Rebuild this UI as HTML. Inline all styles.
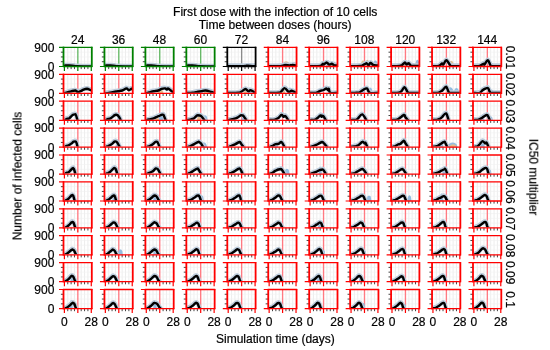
<!DOCTYPE html>
<html><head><meta charset="utf-8"><style>html,body{margin:0;padding:0;background:#fff;}svg{display:block;}</style></head>
<body><svg width="550" height="350" viewBox="0 0 550 350">
<rect width="550" height="350" fill="#fff"/>
<g font-family='"Liberation Sans", sans-serif' font-size="12" fill="#000" stroke="#000" stroke-width="0.2" style="filter:grayscale(1)">
<text x="275.2" y="16.4" text-anchor="middle" font-size="12.1">First dose with the infection of 10 cells</text>
<text x="275.2" y="29.4" text-anchor="middle" font-size="12.1">Time between doses (hours)</text>
<text x="275.4" y="342.5" text-anchor="middle">Simulation time (days)</text>
<text transform="translate(21.5,176) rotate(-90)" text-anchor="middle">Number of infected cells</text>
<text transform="translate(529.3,177.1) rotate(90)" text-anchor="middle">IC50 multiplier</text>
<text x="77.65" y="44.2" text-anchor="middle">24</text>
<text x="118.60" y="44.2" text-anchor="middle">36</text>
<text x="159.55" y="44.2" text-anchor="middle">48</text>
<text x="200.50" y="44.2" text-anchor="middle">60</text>
<text x="241.45" y="44.2" text-anchor="middle">72</text>
<text x="282.40" y="44.2" text-anchor="middle">84</text>
<text x="323.35" y="44.2" text-anchor="middle">96</text>
<text x="364.30" y="44.2" text-anchor="middle">108</text>
<text x="405.25" y="44.2" text-anchor="middle">120</text>
<text x="446.20" y="44.2" text-anchor="middle">132</text>
<text x="487.15" y="44.2" text-anchor="middle">144</text>
<text x="54.4" y="51.70" text-anchor="end">900</text>
<text x="54.4" y="70.80" text-anchor="end">0</text>
<text transform="translate(506.3,57.45) rotate(90)" text-anchor="middle">0.01</text>
<text x="54.4" y="78.60" text-anchor="end">900</text>
<text x="54.4" y="97.70" text-anchor="end">0</text>
<text transform="translate(506.3,84.35) rotate(90)" text-anchor="middle">0.02</text>
<text x="54.4" y="105.50" text-anchor="end">900</text>
<text x="54.4" y="124.60" text-anchor="end">0</text>
<text transform="translate(506.3,111.25) rotate(90)" text-anchor="middle">0.03</text>
<text x="54.4" y="132.40" text-anchor="end">900</text>
<text x="54.4" y="151.50" text-anchor="end">0</text>
<text transform="translate(506.3,138.15) rotate(90)" text-anchor="middle">0.04</text>
<text x="54.4" y="159.30" text-anchor="end">900</text>
<text x="54.4" y="178.40" text-anchor="end">0</text>
<text transform="translate(506.3,165.05) rotate(90)" text-anchor="middle">0.05</text>
<text x="54.4" y="186.20" text-anchor="end">900</text>
<text x="54.4" y="205.30" text-anchor="end">0</text>
<text transform="translate(506.3,191.95) rotate(90)" text-anchor="middle">0.06</text>
<text x="54.4" y="213.10" text-anchor="end">900</text>
<text x="54.4" y="232.20" text-anchor="end">0</text>
<text transform="translate(506.3,218.85) rotate(90)" text-anchor="middle">0.07</text>
<text x="54.4" y="240.00" text-anchor="end">900</text>
<text x="54.4" y="259.10" text-anchor="end">0</text>
<text transform="translate(506.3,245.75) rotate(90)" text-anchor="middle">0.08</text>
<text x="54.4" y="266.90" text-anchor="end">900</text>
<text x="54.4" y="286.00" text-anchor="end">0</text>
<text transform="translate(506.3,272.65) rotate(90)" text-anchor="middle">0.09</text>
<text x="54.4" y="293.80" text-anchor="end">900</text>
<text x="54.4" y="312.90" text-anchor="end">0</text>
<text transform="translate(506.3,299.55) rotate(90)" text-anchor="middle">0.1</text>
<text x="64.40" y="326.00" text-anchor="middle">0</text>
<text x="91.28" y="326.00" text-anchor="middle">28</text>
<text x="105.35" y="326.00" text-anchor="middle">0</text>
<text x="132.23" y="326.00" text-anchor="middle">28</text>
<text x="146.30" y="326.00" text-anchor="middle">0</text>
<text x="173.18" y="326.00" text-anchor="middle">28</text>
<text x="187.25" y="326.00" text-anchor="middle">0</text>
<text x="214.13" y="326.00" text-anchor="middle">28</text>
<text x="228.20" y="326.00" text-anchor="middle">0</text>
<text x="255.08" y="326.00" text-anchor="middle">28</text>
<text x="269.15" y="326.00" text-anchor="middle">0</text>
<text x="296.03" y="326.00" text-anchor="middle">28</text>
<text x="310.10" y="326.00" text-anchor="middle">0</text>
<text x="336.98" y="326.00" text-anchor="middle">28</text>
<text x="351.05" y="326.00" text-anchor="middle">0</text>
<text x="377.93" y="326.00" text-anchor="middle">28</text>
<text x="392.00" y="326.00" text-anchor="middle">0</text>
<text x="418.88" y="326.00" text-anchor="middle">28</text>
<text x="432.95" y="326.00" text-anchor="middle">0</text>
<text x="459.83" y="326.00" text-anchor="middle">28</text>
<text x="473.90" y="326.00" text-anchor="middle">0</text>
<text x="500.78" y="326.00" text-anchor="middle">28</text>
</g>
<defs>
<g id="fg" fill="none"><path d="M4.26 0V19.10M7.62 0V19.10M10.98 0V19.10M17.70 0V19.10M21.06 0V19.10M24.42 0V19.10" stroke="#e9e9e9" stroke-width="0.8"/><path d="M0 4.78H28.30M0 9.55H28.30M0 14.33H28.30" stroke="#f0f0f0" stroke-width="0.6"/><path d="M14.34 0V19.10" stroke="#66b866" stroke-width="1.35"/></g>
<g id="tg" fill="none"><path d="M-2.6 4.78H0M-2.6 9.55H0M-2.6 14.33H0M4.26 19.10v2.6M7.62 19.10v2.6M10.98 19.10v2.6M17.70 19.10v2.6M21.06 19.10v2.6M24.42 19.10v2.6" stroke="#444" stroke-width="1"/><path d="M-4.5 0H0M-4.5 19.10H0M0.90 19.10v4.5M14.34 19.10v4.5M27.78 19.10v4.5" stroke="#008000" stroke-width="1.2"/><path d="M-0.6 0H28.90M-0.6 19.10H28.90" stroke="#008000" stroke-width="1.3"/><path d="M0 -0.6V19.70M28.30 -0.6V19.70" stroke="#008000" stroke-width="1.8"/></g>
<g id="fk" fill="none"><path d="M4.26 0V19.10M7.62 0V19.10M10.98 0V19.10M17.70 0V19.10M21.06 0V19.10M24.42 0V19.10" stroke="#e9e9e9" stroke-width="0.8"/><path d="M0 4.78H28.30M0 9.55H28.30M0 14.33H28.30" stroke="#f0f0f0" stroke-width="0.6"/><path d="M14.34 0V19.10" stroke="#8a8a8a" stroke-width="1.35"/></g>
<g id="tk" fill="none"><path d="M-2.6 4.78H0M-2.6 9.55H0M-2.6 14.33H0M4.26 19.10v2.6M7.62 19.10v2.6M10.98 19.10v2.6M17.70 19.10v2.6M21.06 19.10v2.6M24.42 19.10v2.6" stroke="#444" stroke-width="1"/><path d="M-4.5 0H0M-4.5 19.10H0M0.90 19.10v4.5M14.34 19.10v4.5M27.78 19.10v4.5" stroke="#000000" stroke-width="1.2"/><path d="M-0.6 0H28.90M-0.6 19.10H28.90" stroke="#000000" stroke-width="1.3"/><path d="M0 -0.6V19.70M28.30 -0.6V19.70" stroke="#000000" stroke-width="1.8"/></g>
<g id="fr" fill="none"><path d="M4.26 0V19.10M7.62 0V19.10M10.98 0V19.10M17.70 0V19.10M21.06 0V19.10M24.42 0V19.10" stroke="#e9e9e9" stroke-width="0.8"/><path d="M0 4.78H28.30M0 9.55H28.30M0 14.33H28.30" stroke="#f0f0f0" stroke-width="0.6"/><path d="M14.34 0V19.10" stroke="#ff7a82" stroke-width="1.35"/></g>
<g id="tr" fill="none"><path d="M-2.6 4.78H0M-2.6 9.55H0M-2.6 14.33H0M4.26 19.10v2.6M7.62 19.10v2.6M10.98 19.10v2.6M17.70 19.10v2.6M21.06 19.10v2.6M24.42 19.10v2.6" stroke="#444" stroke-width="1"/><path d="M-4.5 0H0M-4.5 19.10H0M0.90 19.10v4.5M14.34 19.10v4.5M27.78 19.10v4.5" stroke="#ff0000" stroke-width="1.2"/><path d="M-0.6 0H28.90M-0.6 19.10H28.90" stroke="#ff0000" stroke-width="1.3"/><path d="M0 -0.6V19.70M28.30 -0.6V19.70" stroke="#ff0000" stroke-width="1.8"/></g>
</defs>
<clipPath id="c0_0"><rect x="63.50" y="47.40" width="28.30" height="18.50"/></clipPath><use href="#fg" x="63.50" y="47.40"/><defs><path id="l0_0" d="M64.4 65.9C64.6 65.9 64.6 65.6 65.4 65.5C66.2 65.5 67.8 65.5 69.2 65.5C70.6 65.6 72.7 65.8 74.0 65.9C75.3 66.1 74.0 66.2 76.9 66.3C79.8 66.4 88.9 66.5 91.3 66.5"/></defs><g clip-path="url(#c0_0)" fill="none" stroke-linejoin="round" stroke-linecap="round"><use href="#l0_0" stroke="#bccbdb" stroke-width="4.2" transform="translate(0,-0.7)"/><use href="#l0_0" stroke="#000" stroke-width="2.4"/></g><use href="#tg" x="63.50" y="47.40"/>
<clipPath id="c0_1"><rect x="104.45" y="47.40" width="28.30" height="18.50"/></clipPath><use href="#fg" x="104.45" y="47.40"/><defs><path id="l0_1" d="M105.4 65.9C105.5 65.9 105.5 65.6 106.3 65.5C107.1 65.5 108.7 65.5 110.2 65.5C111.6 65.6 113.7 65.8 115.0 65.9C116.2 66.1 115.0 66.2 117.8 66.3C120.7 66.4 129.8 66.5 132.2 66.5"/></defs><g clip-path="url(#c0_1)" fill="none" stroke-linejoin="round" stroke-linecap="round"><use href="#l0_1" stroke="#bccbdb" stroke-width="4.2" transform="translate(0,-0.7)"/><use href="#l0_1" stroke="#000" stroke-width="2.4"/></g><use href="#tg" x="104.45" y="47.40"/>
<clipPath id="c0_2"><rect x="145.40" y="47.40" width="28.30" height="18.50"/></clipPath><use href="#fg" x="145.40" y="47.40"/><defs><path id="l0_2" d="M146.3 65.9C146.5 65.9 146.5 65.6 147.3 65.5C148.1 65.5 149.7 65.5 151.1 65.5C152.5 65.6 154.6 65.8 155.9 65.9C157.2 66.1 155.9 66.2 158.8 66.3C161.7 66.4 170.8 66.5 173.2 66.5"/></defs><g clip-path="url(#c0_2)" fill="none" stroke-linejoin="round" stroke-linecap="round"><use href="#l0_2" stroke="#bccbdb" stroke-width="4.2" transform="translate(0,-0.7)"/><use href="#l0_2" stroke="#000" stroke-width="2.4"/></g><use href="#tg" x="145.40" y="47.40"/>
<clipPath id="c0_3"><rect x="186.35" y="47.40" width="28.30" height="18.50"/></clipPath><use href="#fg" x="186.35" y="47.40"/><defs><path id="l0_3" d="M187.3 65.9C187.4 65.9 187.4 65.6 188.2 65.5C189.0 65.5 190.6 65.5 192.1 65.5C193.5 65.6 195.6 65.8 196.9 65.9C198.1 66.1 196.9 66.2 199.7 66.3C202.6 66.4 211.7 66.5 214.1 66.5"/></defs><g clip-path="url(#c0_3)" fill="none" stroke-linejoin="round" stroke-linecap="round"><use href="#l0_3" stroke="#bccbdb" stroke-width="4.2" transform="translate(0,-0.7)"/><use href="#l0_3" stroke="#000" stroke-width="2.4"/></g><use href="#tg" x="186.35" y="47.40"/>
<clipPath id="c0_4"><rect x="227.30" y="47.40" width="28.30" height="18.50"/></clipPath><use href="#fk" x="227.30" y="47.40"/><defs><path id="l0_4" d="M228.2 66.1C230.8 66.1 240.5 66.2 243.6 66.1C246.6 66.1 245.3 65.8 246.4 65.7C247.6 65.7 248.8 65.9 250.3 65.9C251.7 66.0 254.3 66.1 255.1 66.1"/></defs><polygon points="243.8,66.5 244.5,65.5 245.3,65.2 246.1,65.0 246.9,65.0 247.7,65.0 248.5,65.2 249.3,65.5 250.1,66.5" fill="#94bde0"/><g clip-path="url(#c0_4)" fill="none" stroke-linejoin="round" stroke-linecap="round"><use href="#l0_4" stroke="#bccbdb" stroke-width="4.2" transform="translate(0,-0.7)"/><use href="#l0_4" stroke="#000" stroke-width="2.4"/></g><use href="#tk" x="227.30" y="47.40"/>
<clipPath id="c0_5"><rect x="268.25" y="47.40" width="28.30" height="18.50"/></clipPath><use href="#fr" x="268.25" y="47.40"/><defs><path id="l0_5" d="M269.1 66.3C271.1 66.3 278.3 66.3 280.7 66.1C283.1 66.0 282.6 65.5 283.5 65.4C284.5 65.2 285.5 64.9 286.4 65.0C287.4 65.0 288.4 65.5 289.3 65.5C290.3 65.5 291.1 65.0 292.2 65.0C293.3 64.9 295.4 65.3 296.0 65.4"/></defs><polygon points="291.4,66.5 292.1,63.8 292.8,63.0 293.4,62.6 294.1,62.5 294.8,62.6 295.5,63.0 296.1,63.8 296.8,66.5" fill="#94bde0"/><polygon points="282.3,66.5 283.3,63.0 284.2,62.0 285.2,61.5 286.2,61.3 287.2,61.5 288.1,62.0 289.1,63.0 290.1,66.5" fill="#e2c08f"/><g clip-path="url(#c0_5)" fill="none" stroke-linejoin="round" stroke-linecap="round"><use href="#l0_5" stroke="#bccbdb" stroke-width="4.2" transform="translate(0,-0.7)"/><use href="#l0_5" stroke="#000" stroke-width="2.4"/></g><use href="#tr" x="268.25" y="47.40"/>
<clipPath id="c0_6"><rect x="309.20" y="47.40" width="28.30" height="18.50"/></clipPath><use href="#fr" x="309.20" y="47.40"/><defs><path id="l0_6" d="M310.1 66.1C311.8 66.1 318.1 66.3 320.2 65.9C322.3 65.5 322.2 64.0 322.8 63.8C323.4 63.6 323.1 64.8 323.7 64.6C324.4 64.4 325.7 62.5 326.6 62.5C327.5 62.5 328.4 64.4 329.2 64.6C330.1 64.8 330.9 63.7 331.7 63.8C332.5 63.9 333.4 65.0 334.3 65.3C335.2 65.5 336.5 65.3 337.0 65.4"/></defs><polygon points="326.1,66.5 326.7,62.3 327.2,61.2 327.8,60.6 328.3,60.4 328.9,60.6 329.4,61.2 330.0,62.3 330.5,66.5" fill="#94bde0"/><polygon points="332.2,66.5 332.7,63.2 333.2,62.3 333.8,61.9 334.3,61.7 334.8,61.9 335.3,62.3 335.9,63.2 336.4,66.5" fill="#94bde0"/><polygon points="329.0,66.5 329.7,63.6 330.4,62.8 331.0,62.4 331.7,62.3 332.4,62.4 333.0,62.8 333.7,63.6 334.4,66.5" fill="#e2c08f"/><g clip-path="url(#c0_6)" fill="none" stroke-linejoin="round" stroke-linecap="round"><use href="#l0_6" stroke="#bccbdb" stroke-width="4.2" transform="translate(0,-0.7)"/><use href="#l0_6" stroke="#000" stroke-width="2.4"/></g><use href="#tr" x="309.20" y="47.40"/>
<clipPath id="c0_7"><rect x="350.15" y="47.40" width="28.30" height="18.50"/></clipPath><use href="#fr" x="350.15" y="47.40"/><defs><path id="l0_7" d="M351.1 66.1C352.6 66.1 358.3 66.1 360.3 65.9C362.2 65.8 362.0 65.5 362.9 65.2C363.7 64.8 364.8 64.1 365.4 63.8C366.1 63.5 366.2 63.0 366.7 63.3C367.2 63.5 368.0 65.3 368.6 65.2C369.3 65.1 369.8 62.7 370.5 62.7C371.3 62.6 372.1 64.5 373.1 65.0C374.2 65.4 376.2 65.4 377.0 65.5C377.8 65.6 377.8 65.5 377.9 65.5"/></defs><polygon points="373.1,66.5 373.7,62.3 374.3,61.2 374.9,60.6 375.4,60.4 376.0,60.6 376.6,61.2 377.2,62.3 377.7,66.5" fill="#94bde0"/><polygon points="360.8,66.5 361.4,62.3 361.9,61.2 362.5,60.6 363.1,60.4 363.6,60.6 364.2,61.2 364.7,62.3 365.3,66.5" fill="#e2c08f"/><polygon points="365.2,66.5 365.7,61.9 366.3,60.7 366.8,60.0 367.4,59.8 367.9,60.0 368.5,60.7 369.0,61.9 369.6,66.5" fill="#e2c08f"/><polygon points="370.9,66.5 371.4,63.9 371.8,63.2 372.2,62.8 372.7,62.7 373.1,62.8 373.5,63.2 373.9,63.9 374.4,66.5" fill="#e2c08f"/><g clip-path="url(#c0_7)" fill="none" stroke-linejoin="round" stroke-linecap="round"><use href="#l0_7" stroke="#bccbdb" stroke-width="4.2" transform="translate(0,-0.7)"/><use href="#l0_7" stroke="#000" stroke-width="2.4"/></g><use href="#tr" x="350.15" y="47.40"/>
<clipPath id="c0_8"><rect x="391.10" y="47.40" width="28.30" height="18.50"/></clipPath><use href="#fr" x="391.10" y="47.40"/><defs><path id="l0_8" d="M392.0 66.1C393.2 66.1 397.8 66.1 399.5 65.9C401.2 65.7 401.3 65.4 402.1 65.0C402.8 64.5 403.5 63.7 404.0 63.3C404.5 62.8 404.8 62.3 405.2 62.5C405.7 62.7 406.0 64.5 406.6 64.6C407.1 64.7 407.9 63.2 408.5 63.3C409.2 63.3 409.7 64.7 410.4 65.2C411.2 65.6 411.7 65.8 413.1 65.9C414.5 66.1 417.9 65.9 418.9 65.9"/></defs><polygon points="407.1,66.5 407.5,62.3 407.9,61.2 408.4,60.6 408.8,60.4 409.2,60.6 409.7,61.2 410.1,62.3 410.5,66.5" fill="#94bde0"/><polygon points="415.2,66.5 415.8,61.9 416.3,60.7 416.9,60.0 417.4,59.8 418.0,60.0 418.5,60.7 419.1,61.9 419.6,66.5" fill="#94bde0"/><polygon points="402.3,66.5 402.9,61.9 403.5,60.7 404.1,60.0 404.7,59.8 405.3,60.0 405.9,60.7 406.6,61.9 407.2,66.5" fill="#e2c08f"/><polygon points="414.3,66.5 414.7,63.9 415.1,63.2 415.6,62.8 416.0,62.7 416.4,62.8 416.9,63.2 417.3,63.9 417.7,66.5" fill="#e2c08f"/><g clip-path="url(#c0_8)" fill="none" stroke-linejoin="round" stroke-linecap="round"><use href="#l0_8" stroke="#bccbdb" stroke-width="4.2" transform="translate(0,-0.7)"/><use href="#l0_8" stroke="#000" stroke-width="2.4"/></g><use href="#tr" x="391.10" y="47.40"/>
<clipPath id="c0_9"><rect x="432.05" y="47.40" width="28.30" height="18.50"/></clipPath><use href="#fr" x="432.05" y="47.40"/><defs><path id="l0_9" d="M432.9 66.1C433.9 66.1 437.2 66.4 438.7 65.9C440.2 65.5 441.3 63.7 442.1 63.4C442.8 63.2 442.6 65.1 443.3 64.6C444.0 64.0 445.2 60.1 446.4 60.2C447.5 60.3 449.3 64.4 450.2 65.4C451.2 66.3 450.5 66.0 452.1 66.1C453.8 66.2 458.5 66.1 459.8 66.1"/></defs><polygon points="439.4,66.5 440.0,62.6 440.6,61.5 441.2,60.9 441.8,60.8 442.4,60.9 443.1,61.5 443.7,62.6 444.3,66.5" fill="#94bde0"/><polygon points="448.5,66.5 449.2,62.6 449.8,61.5 450.5,60.9 451.2,60.8 451.9,60.9 452.5,61.5 453.2,62.6 453.9,66.5" fill="#e2c08f"/><g clip-path="url(#c0_9)" fill="none" stroke-linejoin="round" stroke-linecap="round"><use href="#l0_9" stroke="#bccbdb" stroke-width="4.2" transform="translate(0,-0.7)"/><use href="#l0_9" stroke="#000" stroke-width="2.4"/></g><use href="#tr" x="432.05" y="47.40"/>
<clipPath id="c0_10"><rect x="473.00" y="47.40" width="28.30" height="18.50"/></clipPath><use href="#fr" x="473.00" y="47.40"/><defs><path id="l0_10" d="M473.9 66.1C474.9 66.1 478.1 66.3 479.7 65.9C481.3 65.5 482.7 64.0 483.5 63.8C484.3 63.6 483.7 65.2 484.5 64.6C485.2 64.0 486.8 60.0 487.8 60.2C488.9 60.4 489.8 64.7 490.7 65.7C491.6 66.7 491.4 66.1 493.1 66.1C494.8 66.2 499.5 66.1 500.8 66.1"/></defs><polygon points="488.5,66.5 489.2,63.9 489.8,63.2 490.5,62.8 491.2,62.7 491.9,62.8 492.5,63.2 493.2,63.9 493.9,66.5" fill="#94bde0"/><g clip-path="url(#c0_10)" fill="none" stroke-linejoin="round" stroke-linecap="round"><use href="#l0_10" stroke="#bccbdb" stroke-width="4.2" transform="translate(0,-0.7)"/><use href="#l0_10" stroke="#000" stroke-width="2.4"/></g><use href="#tr" x="473.00" y="47.40"/>
<clipPath id="c1_0"><rect x="63.50" y="74.30" width="28.30" height="18.50"/></clipPath><use href="#fr" x="63.50" y="74.30"/><defs><path id="l1_0" d="M64.4 93.4C64.9 93.2 66.2 92.8 67.3 92.4C68.4 92.1 69.8 91.6 71.1 91.3C72.5 91.0 74.3 90.4 75.4 90.5C76.6 90.7 77.0 92.0 77.8 92.1C78.7 92.2 79.8 91.5 80.7 91.1C81.7 90.7 82.6 90.0 83.6 89.6C84.6 89.2 85.8 88.8 87.0 88.8C88.1 88.9 89.6 89.7 90.3 90.0C91.0 90.2 91.1 90.1 91.3 90.2"/></defs><polygon points="70.8,93.4 71.7,89.8 72.5,88.7 73.4,88.2 74.2,88.1 75.1,88.2 75.9,88.7 76.8,89.8 77.6,93.4" fill="#94bde0"/><polygon points="71.8,93.4 72.4,91.1 73.0,90.4 73.6,90.1 74.2,90.0 74.9,90.1 75.5,90.4 76.1,91.1 76.7,93.4" fill="#e2c08f"/><g clip-path="url(#c1_0)" fill="none" stroke-linejoin="round" stroke-linecap="round"><use href="#l1_0" stroke="#bccbdb" stroke-width="4.2" transform="translate(0,-0.7)"/><use href="#l1_0" stroke="#000" stroke-width="2.4"/></g><use href="#tr" x="63.50" y="74.30"/>
<clipPath id="c1_1"><rect x="104.45" y="74.30" width="28.30" height="18.50"/></clipPath><use href="#fr" x="104.45" y="74.30"/><defs><path id="l1_1" d="M105.4 93.4C106.2 93.3 108.1 93.0 110.2 92.6C112.2 92.3 115.5 91.6 117.5 91.3C119.5 90.9 120.7 91.0 122.2 90.5C123.6 90.1 125.3 88.5 126.5 88.4C127.6 88.4 128.1 90.1 128.9 90.2C129.7 90.2 130.7 89.0 131.3 88.8C131.8 88.7 132.1 89.1 132.2 89.2"/></defs><polygon points="116.1,93.4 116.6,91.3 117.1,90.7 117.6,90.4 118.1,90.3 118.6,90.4 119.1,90.7 119.5,91.3 120.0,93.4" fill="#94bde0"/><g clip-path="url(#c1_1)" fill="none" stroke-linejoin="round" stroke-linecap="round"><use href="#l1_1" stroke="#bccbdb" stroke-width="4.2" transform="translate(0,-0.7)"/><use href="#l1_1" stroke="#000" stroke-width="2.4"/></g><use href="#tr" x="104.45" y="74.30"/>
<clipPath id="c1_2"><rect x="145.40" y="74.30" width="28.30" height="18.50"/></clipPath><use href="#fr" x="145.40" y="74.30"/><defs><path id="l1_2" d="M146.3 93.4C146.8 93.2 147.9 92.8 149.2 92.4C150.4 92.1 152.2 91.6 153.7 91.3C155.2 91.0 157.0 90.9 158.3 90.5C159.6 90.1 160.5 89.2 161.7 88.8C162.8 88.5 164.2 88.3 165.1 88.4C166.0 88.6 166.4 89.5 166.9 89.6C167.5 89.6 167.3 88.1 168.4 88.6C169.4 89.1 172.4 91.8 173.2 92.4"/></defs><polygon points="157.1,93.4 157.8,90.5 158.6,89.7 159.4,89.3 160.2,89.2 161.0,89.3 161.8,89.7 162.6,90.5 163.4,93.4" fill="#e2c08f"/><g clip-path="url(#c1_2)" fill="none" stroke-linejoin="round" stroke-linecap="round"><use href="#l1_2" stroke="#bccbdb" stroke-width="4.2" transform="translate(0,-0.7)"/><use href="#l1_2" stroke="#000" stroke-width="2.4"/></g><use href="#tr" x="145.40" y="74.30"/>
<clipPath id="c1_3"><rect x="186.35" y="74.30" width="28.30" height="18.50"/></clipPath><use href="#fr" x="186.35" y="74.30"/><defs><path id="l1_3" d="M187.3 93.0C188.2 93.0 191.4 93.0 193.0 92.8C194.6 92.6 195.5 92.1 196.9 91.9C198.2 91.6 199.8 91.5 201.3 91.3C202.7 91.1 203.8 90.4 205.5 90.5C207.2 90.6 209.8 91.5 211.3 91.9C212.7 92.3 213.7 92.7 214.1 92.8"/></defs><polygon points="199.0,93.4 199.5,90.1 200.1,89.2 200.6,88.8 201.2,88.6 201.7,88.8 202.3,89.2 202.8,90.1 203.4,93.4" fill="#94bde0"/><polygon points="203.8,93.4 204.4,90.8 205.1,90.1 205.8,89.7 206.5,89.6 207.1,89.7 207.8,90.1 208.5,90.8 209.1,93.4" fill="#e2c08f"/><g clip-path="url(#c1_3)" fill="none" stroke-linejoin="round" stroke-linecap="round"><use href="#l1_3" stroke="#bccbdb" stroke-width="4.2" transform="translate(0,-0.7)"/><use href="#l1_3" stroke="#000" stroke-width="2.4"/></g><use href="#tr" x="186.35" y="74.30"/>
<clipPath id="c1_4"><rect x="227.30" y="74.30" width="28.30" height="18.50"/></clipPath><use href="#fr" x="227.30" y="74.30"/><defs><path id="l1_4" d="M228.2 93.0C229.9 93.0 236.1 93.1 238.4 92.8C240.6 92.6 240.5 92.1 241.6 91.5C242.8 90.9 244.4 89.0 245.5 89.0C246.6 89.0 247.5 91.1 248.4 91.3C249.2 91.5 249.5 90.0 250.6 90.2C251.6 90.3 253.8 91.9 254.6 92.3C255.4 92.6 255.0 92.4 255.1 92.4"/></defs><polygon points="246.6,93.4 247.3,89.5 248.0,88.4 248.6,87.8 249.3,87.7 250.0,87.8 250.7,88.4 251.3,89.5 252.0,93.4" fill="#94bde0"/><polygon points="243.3,93.4 243.8,91.1 244.4,90.4 244.9,90.1 245.5,90.0 246.0,90.1 246.6,90.4 247.1,91.1 247.7,93.4" fill="#e2c08f"/><g clip-path="url(#c1_4)" fill="none" stroke-linejoin="round" stroke-linecap="round"><use href="#l1_4" stroke="#bccbdb" stroke-width="4.2" transform="translate(0,-0.7)"/><use href="#l1_4" stroke="#000" stroke-width="2.4"/></g><use href="#tr" x="227.30" y="74.30"/>
<clipPath id="c1_5"><rect x="268.25" y="74.30" width="28.30" height="18.50"/></clipPath><use href="#fr" x="268.25" y="74.30"/><defs><path id="l1_5" d="M269.1 93.0C270.8 93.0 276.7 93.1 278.8 92.8C280.8 92.5 280.6 91.9 281.6 91.1C282.6 90.3 283.6 87.9 284.8 88.1C286.0 88.2 287.6 91.4 288.7 91.9C289.9 92.3 290.7 90.6 291.7 90.7C292.8 90.8 294.4 92.1 295.1 92.4C295.8 92.8 295.9 92.6 296.0 92.6"/></defs><polygon points="287.1,93.4 287.8,89.5 288.6,88.4 289.3,87.8 290.0,87.7 290.8,87.8 291.5,88.4 292.2,89.5 293.0,93.4" fill="#94bde0"/><polygon points="281.3,93.4 281.8,90.8 282.3,90.1 282.8,89.7 283.3,89.6 283.8,89.7 284.3,90.1 284.8,90.8 285.3,93.4" fill="#e2c08f"/><g clip-path="url(#c1_5)" fill="none" stroke-linejoin="round" stroke-linecap="round"><use href="#l1_5" stroke="#bccbdb" stroke-width="4.2" transform="translate(0,-0.7)"/><use href="#l1_5" stroke="#000" stroke-width="2.4"/></g><use href="#tr" x="268.25" y="74.30"/>
<clipPath id="c1_6"><rect x="309.20" y="74.30" width="28.30" height="18.50"/></clipPath><use href="#fr" x="309.20" y="74.30"/><defs><path id="l1_6" d="M310.1 93.0C311.1 93.0 314.7 93.2 316.3 92.8C318.0 92.5 319.0 91.4 320.2 90.9C321.4 90.4 322.5 90.4 323.5 90.0C324.6 89.5 325.7 88.4 326.4 88.4C327.1 88.4 327.5 89.9 327.9 90.0C328.3 90.0 328.4 88.3 328.8 88.8C329.2 89.3 328.9 92.1 330.3 92.8C331.6 93.5 335.9 93.0 337.0 93.0"/></defs><g clip-path="url(#c1_6)" fill="none" stroke-linejoin="round" stroke-linecap="round"><use href="#l1_6" stroke="#bccbdb" stroke-width="4.2" transform="translate(0,-0.7)"/><use href="#l1_6" stroke="#000" stroke-width="2.4"/></g><use href="#tr" x="309.20" y="74.30"/>
<clipPath id="c1_7"><rect x="350.15" y="74.30" width="28.30" height="18.50"/></clipPath><use href="#fr" x="350.15" y="74.30"/><defs><path id="l1_7" d="M351.1 93.0C352.0 93.0 355.4 93.0 356.8 92.8C358.2 92.7 358.7 92.7 359.7 92.3C360.6 91.8 361.4 91.0 362.6 90.3C363.8 89.7 365.7 88.0 366.9 88.4C368.1 88.8 367.9 92.1 369.8 92.8C371.6 93.6 376.6 93.0 377.9 93.0"/></defs><polygon points="360.8,93.4 361.3,89.5 361.8,88.4 362.3,87.8 362.8,87.7 363.3,87.8 363.8,88.4 364.3,89.5 364.8,93.4" fill="#94bde0"/><polygon points="368.5,93.4 369.0,89.5 369.5,88.4 370.0,87.8 370.5,87.7 371.0,87.8 371.5,88.4 372.0,89.5 372.5,93.4" fill="#94bde0"/><g clip-path="url(#c1_7)" fill="none" stroke-linejoin="round" stroke-linecap="round"><use href="#l1_7" stroke="#bccbdb" stroke-width="4.2" transform="translate(0,-0.7)"/><use href="#l1_7" stroke="#000" stroke-width="2.4"/></g><use href="#tr" x="350.15" y="74.30"/>
<clipPath id="c1_8"><rect x="391.10" y="74.30" width="28.30" height="18.50"/></clipPath><use href="#fr" x="391.10" y="74.30"/><defs><path id="l1_8" d="M392.0 93.0C393.1 93.0 397.1 93.1 398.7 92.8C400.3 92.5 400.6 92.0 401.6 91.1C402.6 90.2 403.4 87.1 404.5 87.3C405.5 87.5 407.0 91.5 407.8 92.4C408.6 93.4 407.4 92.9 409.3 93.0C411.1 93.1 417.3 93.0 418.9 93.0"/></defs><polygon points="404.7,93.4 405.2,91.8 405.8,91.4 406.3,91.2 406.9,91.1 407.4,91.2 408.0,91.4 408.5,91.8 409.1,93.4" fill="#e2c08f"/><g clip-path="url(#c1_8)" fill="none" stroke-linejoin="round" stroke-linecap="round"><use href="#l1_8" stroke="#bccbdb" stroke-width="4.2" transform="translate(0,-0.7)"/><use href="#l1_8" stroke="#000" stroke-width="2.4"/></g><use href="#tr" x="391.10" y="74.30"/>
<clipPath id="c1_9"><rect x="432.05" y="74.30" width="28.30" height="18.50"/></clipPath><use href="#fr" x="432.05" y="74.30"/><defs><path id="l1_9" d="M432.9 93.0C433.8 93.0 436.8 93.1 438.0 92.8C439.3 92.6 439.9 91.9 440.6 91.5C441.4 91.1 441.6 91.1 442.6 90.3C443.5 89.5 445.1 86.4 446.1 86.7C447.1 87.1 448.1 91.4 448.8 92.4C449.5 93.5 448.4 92.9 450.2 93.0C452.1 93.1 458.2 93.0 459.8 93.0"/></defs><polygon points="447.5,93.4 448.3,89.2 449.0,88.1 449.7,87.5 450.5,87.3 451.2,87.5 451.9,88.1 452.7,89.2 453.4,93.4" fill="#94bde0"/><polygon points="453.8,93.4 454.5,89.8 455.1,88.7 455.8,88.2 456.5,88.1 457.1,88.2 457.8,88.7 458.5,89.8 459.2,93.4" fill="#94bde0"/><polygon points="446.1,93.4 446.7,91.1 447.3,90.4 447.9,90.1 448.6,90.0 449.2,90.1 449.8,90.4 450.4,91.1 451.0,93.4" fill="#e2c08f"/><g clip-path="url(#c1_9)" fill="none" stroke-linejoin="round" stroke-linecap="round"><use href="#l1_9" stroke="#bccbdb" stroke-width="4.2" transform="translate(0,-0.7)"/><use href="#l1_9" stroke="#000" stroke-width="2.4"/></g><use href="#tr" x="432.05" y="74.30"/>
<clipPath id="c1_10"><rect x="473.00" y="74.30" width="28.30" height="18.50"/></clipPath><use href="#fr" x="473.00" y="74.30"/><defs><path id="l1_10" d="M473.9 93.0C474.9 93.0 478.5 93.3 479.9 92.8C481.4 92.3 481.6 90.9 482.5 90.2C483.5 89.5 484.5 89.0 485.4 88.6C486.3 88.3 487.3 87.4 488.0 88.1C488.8 88.7 489.4 91.4 489.9 92.3C490.5 93.1 489.4 92.9 491.2 93.0C493.0 93.1 499.2 93.0 500.8 93.0"/></defs><polygon points="489.5,93.4 490.0,90.8 490.6,90.1 491.1,89.7 491.7,89.6 492.2,89.7 492.8,90.1 493.3,90.8 493.9,93.4" fill="#94bde0"/><g clip-path="url(#c1_10)" fill="none" stroke-linejoin="round" stroke-linecap="round"><use href="#l1_10" stroke="#bccbdb" stroke-width="4.2" transform="translate(0,-0.7)"/><use href="#l1_10" stroke="#000" stroke-width="2.4"/></g><use href="#tr" x="473.00" y="74.30"/>
<clipPath id="c2_0"><rect x="63.50" y="101.20" width="28.30" height="18.50"/></clipPath><use href="#fr" x="63.50" y="101.20"/><defs><path id="l2_0" d="M65.4 119.9C65.6 119.7 66.2 119.0 66.8 118.8C67.4 118.5 68.3 119.0 69.2 118.4C70.1 117.8 71.5 115.8 72.4 115.1C73.2 114.5 73.9 114.4 74.5 114.4C75.1 114.3 75.4 114.0 75.9 115.0C76.4 115.9 77.2 119.4 77.5 120.3"/></defs><g clip-path="url(#c2_0)" fill="none" stroke-linejoin="round" stroke-linecap="round"><use href="#l2_0" stroke="#bccbdb" stroke-width="4.2" transform="translate(0,-0.7)"/><use href="#l2_0" stroke="#000" stroke-width="2.4"/></g><use href="#tr" x="63.50" y="101.20"/>
<clipPath id="c2_1"><rect x="104.45" y="101.20" width="28.30" height="18.50"/></clipPath><use href="#fr" x="104.45" y="101.20"/><defs><path id="l2_1" d="M106.3 119.9C106.6 119.8 107.5 119.2 108.2 119.0C109.0 118.7 109.8 118.9 110.6 118.4C111.5 117.9 112.8 116.7 113.5 116.1C114.2 115.5 114.3 115.1 115.0 115.0C115.6 114.8 116.6 114.7 117.4 115.1C118.1 115.6 118.7 116.6 119.3 117.4C119.8 118.3 120.5 119.8 120.7 120.3"/></defs><polygon points="117.1,120.3 117.7,117.4 118.3,116.6 118.9,116.2 119.5,116.1 120.1,116.2 120.7,116.6 121.3,117.4 122.0,120.3" fill="#94bde0"/><g clip-path="url(#c2_1)" fill="none" stroke-linejoin="round" stroke-linecap="round"><use href="#l2_1" stroke="#bccbdb" stroke-width="4.2" transform="translate(0,-0.7)"/><use href="#l2_1" stroke="#000" stroke-width="2.4"/></g><use href="#tr" x="104.45" y="101.20"/>
<clipPath id="c2_2"><rect x="145.40" y="101.20" width="28.30" height="18.50"/></clipPath><use href="#fr" x="145.40" y="101.20"/><defs><path id="l2_2" d="M147.3 119.9C147.7 119.8 149.1 119.4 150.1 119.2C151.2 118.9 152.5 118.8 153.6 118.4C154.7 118.0 155.8 117.3 156.9 116.9C157.9 116.4 158.9 116.1 159.7 115.7C160.5 115.4 161.0 114.9 161.7 114.8C162.3 114.7 162.9 114.2 163.6 115.1C164.3 116.1 165.3 119.4 165.7 120.3"/></defs><polygon points="158.5,120.3 159.1,116.4 159.7,115.3 160.3,114.7 160.9,114.6 161.6,114.7 162.2,115.3 162.8,116.4 163.4,120.3" fill="#94bde0"/><polygon points="154.7,120.3 155.2,117.7 155.8,117.0 156.3,116.6 156.9,116.5 157.4,116.6 158.0,117.0 158.5,117.7 159.1,120.3" fill="#e2c08f"/><g clip-path="url(#c2_2)" fill="none" stroke-linejoin="round" stroke-linecap="round"><use href="#l2_2" stroke="#bccbdb" stroke-width="4.2" transform="translate(0,-0.7)"/><use href="#l2_2" stroke="#000" stroke-width="2.4"/></g><use href="#tr" x="145.40" y="101.20"/>
<clipPath id="c2_3"><rect x="186.35" y="101.20" width="28.30" height="18.50"/></clipPath><use href="#fr" x="186.35" y="101.20"/><defs><path id="l2_3" d="M188.2 119.9C188.7 119.8 190.1 119.6 191.1 119.3C192.1 119.1 192.9 118.9 194.0 118.2C195.0 117.5 196.5 115.8 197.3 115.3C198.2 114.9 198.6 115.4 199.3 115.5C199.9 115.7 200.3 115.3 201.2 116.1C202.1 116.9 204.0 119.6 204.5 120.3"/></defs><polygon points="202.3,120.3 203.0,116.9 203.7,116.0 204.3,115.5 205.0,115.3 205.7,115.5 206.4,116.0 207.0,116.9 207.7,120.3" fill="#94bde0"/><polygon points="197.0,120.3 197.5,116.4 197.9,115.3 198.3,114.7 198.8,114.6 199.2,114.7 199.6,115.3 200.1,116.4 200.5,120.3" fill="#e2c08f"/><g clip-path="url(#c2_3)" fill="none" stroke-linejoin="round" stroke-linecap="round"><use href="#l2_3" stroke="#bccbdb" stroke-width="4.2" transform="translate(0,-0.7)"/><use href="#l2_3" stroke="#000" stroke-width="2.4"/></g><use href="#tr" x="186.35" y="101.20"/>
<clipPath id="c2_4"><rect x="227.30" y="101.20" width="28.30" height="18.50"/></clipPath><use href="#fr" x="227.30" y="101.20"/><defs><path id="l2_4" d="M229.2 119.9C229.9 119.8 232.1 119.3 233.5 119.0C234.9 118.6 236.2 118.2 237.4 117.6C238.6 117.0 239.8 115.7 240.7 115.3C241.5 115.0 242.1 115.4 242.6 115.5C243.1 115.7 242.9 115.3 243.6 116.1C244.2 116.9 246.0 119.6 246.4 120.3"/></defs><polygon points="241.4,120.3 242.0,117.0 242.6,116.1 243.2,115.7 243.8,115.5 244.4,115.7 245.0,116.1 245.6,117.0 246.2,120.3" fill="#94bde0"/><g clip-path="url(#c2_4)" fill="none" stroke-linejoin="round" stroke-linecap="round"><use href="#l2_4" stroke="#bccbdb" stroke-width="4.2" transform="translate(0,-0.7)"/><use href="#l2_4" stroke="#000" stroke-width="2.4"/></g><use href="#tr" x="227.30" y="101.20"/>
<clipPath id="c2_5"><rect x="268.25" y="101.20" width="28.30" height="18.50"/></clipPath><use href="#fr" x="268.25" y="101.20"/><defs><path id="l2_5" d="M270.1 119.9C270.7 119.9 272.7 120.2 273.9 119.9C275.2 119.7 276.7 118.8 277.6 118.4C278.5 117.9 278.6 117.9 279.2 117.2C279.9 116.6 280.9 114.6 281.6 114.6C282.4 114.5 282.9 116.6 283.5 116.9C284.2 117.1 284.7 115.5 285.5 116.1C286.3 116.7 287.9 119.6 288.3 120.3"/></defs><g clip-path="url(#c2_5)" fill="none" stroke-linejoin="round" stroke-linecap="round"><use href="#l2_5" stroke="#bccbdb" stroke-width="4.2" transform="translate(0,-0.7)"/><use href="#l2_5" stroke="#000" stroke-width="2.4"/></g><use href="#tr" x="268.25" y="101.20"/>
<clipPath id="c2_6"><rect x="309.20" y="101.20" width="28.30" height="18.50"/></clipPath><use href="#fr" x="309.20" y="101.20"/><defs><path id="l2_6" d="M311.1 119.9C311.6 119.9 313.6 120.1 314.4 119.9C315.3 119.8 315.6 119.4 316.2 119.0C316.9 118.5 317.4 118.1 318.2 117.4C318.9 116.8 320.1 115.2 320.7 115.1C321.2 115.0 321.2 116.7 321.6 116.9C322.0 117.0 322.3 115.3 323.1 115.9C323.8 116.5 325.5 119.6 326.0 120.3"/></defs><g clip-path="url(#c2_6)" fill="none" stroke-linejoin="round" stroke-linecap="round"><use href="#l2_6" stroke="#bccbdb" stroke-width="4.2" transform="translate(0,-0.7)"/><use href="#l2_6" stroke="#000" stroke-width="2.4"/></g><use href="#tr" x="309.20" y="101.20"/>
<clipPath id="c2_7"><rect x="350.15" y="101.20" width="28.30" height="18.50"/></clipPath><use href="#fr" x="350.15" y="101.20"/><defs><path id="l2_7" d="M352.0 119.9C352.6 119.9 354.9 120.1 355.9 119.9C356.8 119.7 356.7 119.5 357.8 118.6C358.8 117.7 360.8 114.1 362.3 114.4C363.7 114.7 365.7 119.3 366.4 120.3"/></defs><g clip-path="url(#c2_7)" fill="none" stroke-linejoin="round" stroke-linecap="round"><use href="#l2_7" stroke="#bccbdb" stroke-width="4.2" transform="translate(0,-0.7)"/><use href="#l2_7" stroke="#000" stroke-width="2.4"/></g><use href="#tr" x="350.15" y="101.20"/>
<clipPath id="c2_8"><rect x="391.10" y="101.20" width="28.30" height="18.50"/></clipPath><use href="#fr" x="391.10" y="101.20"/><defs><path id="l2_8" d="M393.0 119.9C393.4 119.9 394.9 120.1 395.8 119.9C396.7 119.8 397.4 119.5 398.3 119.0C399.2 118.5 400.2 117.6 401.2 116.9C402.2 116.2 403.5 114.7 404.2 114.8C404.9 114.8 404.8 116.3 405.4 117.2C406.1 118.2 407.7 119.8 408.1 120.3"/></defs><g clip-path="url(#c2_8)" fill="none" stroke-linejoin="round" stroke-linecap="round"><use href="#l2_8" stroke="#bccbdb" stroke-width="4.2" transform="translate(0,-0.7)"/><use href="#l2_8" stroke="#000" stroke-width="2.4"/></g><use href="#tr" x="391.10" y="101.20"/>
<clipPath id="c2_9"><rect x="432.05" y="101.20" width="28.30" height="18.50"/></clipPath><use href="#fr" x="432.05" y="101.20"/><defs><path id="l2_9" d="M433.9 119.9C434.4 119.9 435.8 120.1 436.8 119.9C437.8 119.7 439.2 119.1 440.1 118.6C440.9 118.1 441.0 117.9 442.0 117.1C443.0 116.2 444.9 112.9 446.0 113.4C447.1 114.0 448.2 119.2 448.7 120.3"/></defs><g clip-path="url(#c2_9)" fill="none" stroke-linejoin="round" stroke-linecap="round"><use href="#l2_9" stroke="#bccbdb" stroke-width="4.2" transform="translate(0,-0.7)"/><use href="#l2_9" stroke="#000" stroke-width="2.4"/></g><use href="#tr" x="432.05" y="101.20"/>
<clipPath id="c2_10"><rect x="473.00" y="101.20" width="28.30" height="18.50"/></clipPath><use href="#fr" x="473.00" y="101.20"/><defs><path id="l2_10" d="M474.9 119.9C475.3 119.9 476.7 120.2 477.7 119.9C478.8 119.7 480.2 119.0 481.2 118.4C482.2 117.8 483.0 117.1 483.9 116.5C484.8 115.9 485.9 115.1 486.6 115.0C487.2 114.8 487.3 114.8 487.8 115.7C488.4 116.6 489.6 119.5 489.9 120.3"/></defs><polygon points="480.3,120.3 480.8,116.4 481.3,115.3 481.8,114.7 482.3,114.6 482.8,114.7 483.3,115.3 483.8,116.4 484.3,120.3" fill="#94bde0"/><polygon points="489.0,120.3 489.5,117.7 490.0,117.0 490.4,116.6 490.9,116.5 491.4,116.6 491.9,117.0 492.4,117.7 492.9,120.3" fill="#94bde0"/><g clip-path="url(#c2_10)" fill="none" stroke-linejoin="round" stroke-linecap="round"><use href="#l2_10" stroke="#bccbdb" stroke-width="4.2" transform="translate(0,-0.7)"/><use href="#l2_10" stroke="#000" stroke-width="2.4"/></g><use href="#tr" x="473.00" y="101.20"/>
<clipPath id="c3_0"><rect x="63.50" y="128.10" width="28.30" height="18.50"/></clipPath><use href="#fr" x="63.50" y="128.10"/><defs><path id="l3_0" d="M65.4 146.8C65.5 146.7 65.8 146.1 66.3 145.9C66.9 145.6 67.7 145.8 68.6 145.3C69.6 144.8 71.2 143.6 72.1 143.0C72.9 142.4 72.9 141.9 73.6 141.7C74.3 141.5 75.4 140.9 76.1 141.9C76.8 142.8 77.4 146.3 77.6 147.2"/></defs><g clip-path="url(#c3_0)" fill="none" stroke-linejoin="round" stroke-linecap="round"><use href="#l3_0" stroke="#bccbdb" stroke-width="4.2" transform="translate(0,-0.7)"/><use href="#l3_0" stroke="#000" stroke-width="2.4"/></g><use href="#tr" x="63.50" y="128.10"/>
<clipPath id="c3_1"><rect x="104.45" y="128.10" width="28.30" height="18.50"/></clipPath><use href="#fr" x="104.45" y="128.10"/><defs><path id="l3_1" d="M106.3 146.8C106.6 146.7 107.3 146.5 108.2 146.1C109.1 145.6 110.7 144.7 111.8 144.0C112.9 143.2 113.9 141.8 114.8 141.5C115.6 141.1 116.1 141.4 116.7 141.9C117.3 142.3 117.8 143.4 118.3 144.3C118.8 145.2 119.5 146.7 119.8 147.2"/></defs><polygon points="115.6,147.2 116.2,143.3 116.7,142.2 117.3,141.6 117.8,141.5 118.4,141.6 118.9,142.2 119.5,143.3 120.0,147.2" fill="#94bde0"/><g clip-path="url(#c3_1)" fill="none" stroke-linejoin="round" stroke-linecap="round"><use href="#l3_1" stroke="#bccbdb" stroke-width="4.2" transform="translate(0,-0.7)"/><use href="#l3_1" stroke="#000" stroke-width="2.4"/></g><use href="#tr" x="104.45" y="128.10"/>
<clipPath id="c3_2"><rect x="145.40" y="128.10" width="28.30" height="18.50"/></clipPath><use href="#fr" x="145.40" y="128.10"/><defs><path id="l3_2" d="M147.3 146.8C147.6 146.7 148.6 146.4 149.5 146.1C150.3 145.7 151.5 145.2 152.4 144.5C153.4 143.9 154.5 142.5 155.3 142.0C156.2 141.6 156.7 141.2 157.4 142.0C158.2 142.9 159.3 146.3 159.6 147.2"/></defs><g clip-path="url(#c3_2)" fill="none" stroke-linejoin="round" stroke-linecap="round"><use href="#l3_2" stroke="#bccbdb" stroke-width="4.2" transform="translate(0,-0.7)"/><use href="#l3_2" stroke="#000" stroke-width="2.4"/></g><use href="#tr" x="145.40" y="128.10"/>
<clipPath id="c3_3"><rect x="186.35" y="128.10" width="28.30" height="18.50"/></clipPath><use href="#fr" x="186.35" y="128.10"/><defs><path id="l3_3" d="M188.2 146.8C188.5 146.7 189.1 146.7 190.1 146.2C191.1 145.8 192.8 144.9 194.2 144.1C195.5 143.4 197.4 142.2 198.3 141.9C199.1 141.5 198.8 141.7 199.3 142.0C199.7 142.4 200.5 142.9 201.2 143.8C201.8 144.6 202.9 146.6 203.3 147.2"/></defs><polygon points="199.4,147.2 200.4,143.9 201.4,143.0 202.4,142.6 203.3,142.4 204.3,142.6 205.3,143.0 206.2,143.9 207.2,147.2" fill="#94bde0"/><g clip-path="url(#c3_3)" fill="none" stroke-linejoin="round" stroke-linecap="round"><use href="#l3_3" stroke="#bccbdb" stroke-width="4.2" transform="translate(0,-0.7)"/><use href="#l3_3" stroke="#000" stroke-width="2.4"/></g><use href="#tr" x="186.35" y="128.10"/>
<clipPath id="c3_4"><rect x="227.30" y="128.10" width="28.30" height="18.50"/></clipPath><use href="#fr" x="227.30" y="128.10"/><defs><path id="l3_4" d="M229.2 146.8C229.5 146.7 230.3 146.3 231.4 145.9C232.4 145.4 234.0 144.8 235.4 144.1C236.8 143.5 238.7 142.0 239.7 142.0C240.7 142.0 240.8 143.3 241.4 144.1C242.1 145.0 243.2 146.7 243.6 147.2"/></defs><g clip-path="url(#c3_4)" fill="none" stroke-linejoin="round" stroke-linecap="round"><use href="#l3_4" stroke="#bccbdb" stroke-width="4.2" transform="translate(0,-0.7)"/><use href="#l3_4" stroke="#000" stroke-width="2.4"/></g><use href="#tr" x="227.30" y="128.10"/>
<clipPath id="c3_5"><rect x="268.25" y="128.10" width="28.30" height="18.50"/></clipPath><use href="#fr" x="268.25" y="128.10"/><defs><path id="l3_5" d="M270.1 146.8C270.5 146.7 271.6 146.3 272.5 145.9C273.4 145.4 274.6 144.5 275.6 144.1C276.6 143.8 277.6 144.1 278.6 143.8C279.6 143.4 280.6 141.5 281.6 142.0C282.6 142.6 284.0 146.3 284.5 147.2"/></defs><polygon points="271.7,147.2 272.5,144.6 273.3,143.9 274.1,143.5 274.9,143.4 275.7,143.5 276.5,143.9 277.3,144.6 278.1,147.2" fill="#94bde0"/><g clip-path="url(#c3_5)" fill="none" stroke-linejoin="round" stroke-linecap="round"><use href="#l3_5" stroke="#bccbdb" stroke-width="4.2" transform="translate(0,-0.7)"/><use href="#l3_5" stroke="#000" stroke-width="2.4"/></g><use href="#tr" x="268.25" y="128.10"/>
<clipPath id="c3_6"><rect x="309.20" y="128.10" width="28.30" height="18.50"/></clipPath><use href="#fr" x="309.20" y="128.10"/><defs><path id="l3_6" d="M311.1 146.8C311.3 146.8 311.4 146.8 312.3 146.4C313.2 146.1 315.1 145.4 316.2 144.9C317.4 144.4 318.1 143.9 319.1 143.4C320.1 142.9 321.3 142.0 322.1 142.0C322.9 142.0 323.2 142.5 324.0 143.4C324.9 144.2 326.6 146.6 327.1 147.2"/></defs><g clip-path="url(#c3_6)" fill="none" stroke-linejoin="round" stroke-linecap="round"><use href="#l3_6" stroke="#bccbdb" stroke-width="4.2" transform="translate(0,-0.7)"/><use href="#l3_6" stroke="#000" stroke-width="2.4"/></g><use href="#tr" x="309.20" y="128.10"/>
<clipPath id="c3_7"><rect x="350.15" y="128.10" width="28.30" height="18.50"/></clipPath><use href="#fr" x="350.15" y="128.10"/><defs><path id="l3_7" d="M352.0 146.8C352.6 146.7 354.7 146.4 355.9 146.1C357.0 145.7 357.6 145.6 358.7 144.9C359.9 144.2 361.6 141.9 362.6 141.7C363.5 141.4 364.0 143.2 364.5 143.4C365.0 143.6 365.0 142.2 365.4 142.8C365.9 143.4 367.1 146.5 367.4 147.2"/></defs><g clip-path="url(#c3_7)" fill="none" stroke-linejoin="round" stroke-linecap="round"><use href="#l3_7" stroke="#bccbdb" stroke-width="4.2" transform="translate(0,-0.7)"/><use href="#l3_7" stroke="#000" stroke-width="2.4"/></g><use href="#tr" x="350.15" y="128.10"/>
<clipPath id="c3_8"><rect x="391.10" y="128.10" width="28.30" height="18.50"/></clipPath><use href="#fr" x="391.10" y="128.10"/><defs><path id="l3_8" d="M393.0 146.8C393.4 146.7 394.5 146.5 395.4 146.1C396.3 145.6 397.5 144.7 398.3 144.3C399.2 144.0 399.3 144.6 400.3 144.0C401.2 143.3 403.0 140.9 403.8 140.7C404.6 140.5 404.4 141.7 405.2 142.8C405.9 143.9 407.6 146.5 408.1 147.2"/></defs><g clip-path="url(#c3_8)" fill="none" stroke-linejoin="round" stroke-linecap="round"><use href="#l3_8" stroke="#bccbdb" stroke-width="4.2" transform="translate(0,-0.7)"/><use href="#l3_8" stroke="#000" stroke-width="2.4"/></g><use href="#tr" x="391.10" y="128.10"/>
<clipPath id="c3_9"><rect x="432.05" y="128.10" width="28.30" height="18.50"/></clipPath><use href="#fr" x="432.05" y="128.10"/><defs><path id="l3_9" d="M433.9 146.8C434.4 146.7 435.9 146.6 436.8 146.2C437.7 145.9 438.2 145.4 439.4 144.7C440.6 144.0 443.0 142.2 444.0 141.9C445.0 141.5 444.8 141.9 445.3 142.8C445.9 143.7 447.0 146.5 447.3 147.2"/></defs><polygon points="438.9,147.2 439.5,142.6 440.0,141.4 440.6,140.7 441.1,140.5 441.7,140.7 442.2,141.4 442.8,142.6 443.3,147.2" fill="#94bde0"/><polygon points="447.5,147.2 448.8,144.1 450.1,143.2 451.4,142.8 452.6,142.6 453.9,142.8 455.2,143.2 456.4,144.1 457.7,147.2" fill="#94bde0"/><polygon points="449.5,147.2 450.4,145.2 451.3,144.7 452.2,144.4 453.1,144.3 454.0,144.4 454.9,144.7 455.8,145.2 456.8,147.2" fill="#e2c08f"/><g clip-path="url(#c3_9)" fill="none" stroke-linejoin="round" stroke-linecap="round"><use href="#l3_9" stroke="#bccbdb" stroke-width="4.2" transform="translate(0,-0.7)"/><use href="#l3_9" stroke="#000" stroke-width="2.4"/></g><use href="#tr" x="432.05" y="128.10"/>
<clipPath id="c3_10"><rect x="473.00" y="128.10" width="28.30" height="18.50"/></clipPath><use href="#fr" x="473.00" y="128.10"/><defs><path id="l3_10" d="M474.9 146.8C475.3 146.7 476.9 146.7 477.7 146.2C478.6 145.8 479.1 144.8 479.9 144.0C480.7 143.1 481.7 141.2 482.5 141.1C483.4 141.0 484.6 143.1 485.2 143.4C485.9 143.6 486.0 142.0 486.6 142.6C487.1 143.3 488.3 146.4 488.6 147.2"/></defs><polygon points="480.3,147.2 480.9,142.4 481.4,141.0 482.0,140.4 482.5,140.1 483.1,140.4 483.6,141.0 484.2,142.4 484.7,147.2" fill="#94bde0"/><g clip-path="url(#c3_10)" fill="none" stroke-linejoin="round" stroke-linecap="round"><use href="#l3_10" stroke="#bccbdb" stroke-width="4.2" transform="translate(0,-0.7)"/><use href="#l3_10" stroke="#000" stroke-width="2.4"/></g><use href="#tr" x="473.00" y="128.10"/>
<clipPath id="c4_0"><rect x="63.50" y="155.00" width="28.30" height="18.50"/></clipPath><use href="#fr" x="63.50" y="155.00"/><defs><path id="l4_0" d="M65.4 173.7C65.5 173.6 65.8 173.0 66.3 172.8C66.9 172.5 67.6 172.9 68.6 172.2C69.6 171.5 71.6 168.9 72.5 168.4C73.3 167.8 73.3 168.0 73.8 168.9C74.3 169.9 75.2 173.2 75.4 174.1"/></defs><g clip-path="url(#c4_0)" fill="none" stroke-linejoin="round" stroke-linecap="round"><use href="#l4_0" stroke="#bccbdb" stroke-width="4.2" transform="translate(0,-0.7)"/><use href="#l4_0" stroke="#000" stroke-width="2.4"/></g><use href="#tr" x="63.50" y="155.00"/>
<clipPath id="c4_1"><rect x="104.45" y="155.00" width="28.30" height="18.50"/></clipPath><use href="#fr" x="104.45" y="155.00"/><defs><path id="l4_1" d="M106.3 173.7C106.6 173.6 107.5 173.3 108.2 173.0C109.0 172.6 109.7 172.3 110.6 171.4C111.6 170.6 113.2 168.4 114.0 168.0C114.8 167.6 115.0 167.9 115.6 168.9C116.2 170.0 117.1 173.2 117.4 174.1"/></defs><g clip-path="url(#c4_1)" fill="none" stroke-linejoin="round" stroke-linecap="round"><use href="#l4_1" stroke="#bccbdb" stroke-width="4.2" transform="translate(0,-0.7)"/><use href="#l4_1" stroke="#000" stroke-width="2.4"/></g><use href="#tr" x="104.45" y="155.00"/>
<clipPath id="c4_2"><rect x="145.40" y="155.00" width="28.30" height="18.50"/></clipPath><use href="#fr" x="145.40" y="155.00"/><defs><path id="l4_2" d="M147.3 173.7C147.6 173.6 148.3 173.3 149.2 173.0C150.1 172.6 151.4 172.2 152.5 171.4C153.7 170.7 155.0 168.7 155.9 168.4C156.8 168.1 157.4 168.8 158.2 169.7C159.0 170.7 160.1 173.4 160.5 174.1"/></defs><g clip-path="url(#c4_2)" fill="none" stroke-linejoin="round" stroke-linecap="round"><use href="#l4_2" stroke="#bccbdb" stroke-width="4.2" transform="translate(0,-0.7)"/><use href="#l4_2" stroke="#000" stroke-width="2.4"/></g><use href="#tr" x="145.40" y="155.00"/>
<clipPath id="c4_3"><rect x="186.35" y="155.00" width="28.30" height="18.50"/></clipPath><use href="#fr" x="186.35" y="155.00"/><defs><path id="l4_3" d="M188.2 173.7C188.5 173.6 189.3 173.2 190.1 172.8C191.0 172.3 192.0 171.7 193.2 171.0C194.4 170.3 196.4 168.8 197.2 168.6C198.1 168.3 197.6 168.4 198.3 169.3C199.0 170.2 200.8 173.3 201.3 174.1"/></defs><g clip-path="url(#c4_3)" fill="none" stroke-linejoin="round" stroke-linecap="round"><use href="#l4_3" stroke="#bccbdb" stroke-width="4.2" transform="translate(0,-0.7)"/><use href="#l4_3" stroke="#000" stroke-width="2.4"/></g><use href="#tr" x="186.35" y="155.00"/>
<clipPath id="c4_4"><rect x="227.30" y="155.00" width="28.30" height="18.50"/></clipPath><use href="#fr" x="227.30" y="155.00"/><defs><path id="l4_4" d="M229.2 173.7C229.5 173.6 230.5 173.1 231.4 172.8C232.2 172.4 233.0 172.1 234.4 171.4C235.8 170.7 238.4 168.1 239.7 168.6C241.1 169.0 242.1 173.2 242.6 174.1"/></defs><g clip-path="url(#c4_4)" fill="none" stroke-linejoin="round" stroke-linecap="round"><use href="#l4_4" stroke="#bccbdb" stroke-width="4.2" transform="translate(0,-0.7)"/><use href="#l4_4" stroke="#000" stroke-width="2.4"/></g><use href="#tr" x="227.30" y="155.00"/>
<clipPath id="c4_5"><rect x="268.25" y="155.00" width="28.30" height="18.50"/></clipPath><use href="#fr" x="268.25" y="155.00"/><defs><path id="l4_5" d="M270.1 173.7C270.5 173.6 271.6 173.3 272.5 172.8C273.4 172.3 274.4 171.2 275.6 170.7C276.8 170.1 278.7 169.5 279.7 169.3C280.7 169.1 280.8 168.5 281.6 169.3C282.4 170.1 284.0 173.3 284.5 174.1"/></defs><polygon points="284.2,174.1 284.9,170.5 285.6,169.4 286.2,168.9 286.9,168.8 287.6,168.9 288.3,169.4 288.9,170.5 289.6,174.1" fill="#94bde0"/><g clip-path="url(#c4_5)" fill="none" stroke-linejoin="round" stroke-linecap="round"><use href="#l4_5" stroke="#bccbdb" stroke-width="4.2" transform="translate(0,-0.7)"/><use href="#l4_5" stroke="#000" stroke-width="2.4"/></g><use href="#tr" x="268.25" y="155.00"/>
<clipPath id="c4_6"><rect x="309.20" y="155.00" width="28.30" height="18.50"/></clipPath><use href="#fr" x="309.20" y="155.00"/><defs><path id="l4_6" d="M311.1 173.7C311.4 173.6 312.4 173.3 313.3 173.0C314.1 172.6 315.3 172.3 316.2 171.8C317.2 171.4 318.3 170.6 319.1 170.3C319.9 169.9 320.5 169.8 321.1 169.7C321.8 169.6 322.2 169.0 323.1 169.7C323.9 170.4 325.5 173.4 326.0 174.1"/></defs><polygon points="318.5,174.1 318.9,168.9 319.3,167.4 319.7,166.7 320.2,166.5 320.6,166.7 321.0,167.4 321.5,168.9 321.9,174.1" fill="#94bde0"/><g clip-path="url(#c4_6)" fill="none" stroke-linejoin="round" stroke-linecap="round"><use href="#l4_6" stroke="#bccbdb" stroke-width="4.2" transform="translate(0,-0.7)"/><use href="#l4_6" stroke="#000" stroke-width="2.4"/></g><use href="#tr" x="309.20" y="155.00"/>
<clipPath id="c4_7"><rect x="350.15" y="155.00" width="28.30" height="18.50"/></clipPath><use href="#fr" x="350.15" y="155.00"/><defs><path id="l4_7" d="M352.0 173.7C352.5 173.6 353.9 173.4 354.9 173.0C355.9 172.5 356.7 171.9 357.8 171.2C358.9 170.6 360.7 169.4 361.6 169.1C362.6 168.9 362.7 168.9 363.5 169.7C364.4 170.5 366.1 173.4 366.6 174.1"/></defs><polygon points="363.2,174.1 363.7,170.7 364.2,169.8 364.7,169.3 365.2,169.1 365.7,169.3 366.2,169.8 366.7,170.7 367.2,174.1" fill="#94bde0"/><g clip-path="url(#c4_7)" fill="none" stroke-linejoin="round" stroke-linecap="round"><use href="#l4_7" stroke="#bccbdb" stroke-width="4.2" transform="translate(0,-0.7)"/><use href="#l4_7" stroke="#000" stroke-width="2.4"/></g><use href="#tr" x="350.15" y="155.00"/>
<clipPath id="c4_8"><rect x="391.10" y="155.00" width="28.30" height="18.50"/></clipPath><use href="#fr" x="391.10" y="155.00"/><defs><path id="l4_8" d="M393.0 173.7C393.4 173.6 394.5 173.4 395.4 173.0C396.3 172.5 397.1 171.9 398.3 171.2C399.5 170.6 401.2 168.7 402.6 169.1C403.9 169.6 405.6 173.3 406.2 174.1"/></defs><g clip-path="url(#c4_8)" fill="none" stroke-linejoin="round" stroke-linecap="round"><use href="#l4_8" stroke="#bccbdb" stroke-width="4.2" transform="translate(0,-0.7)"/><use href="#l4_8" stroke="#000" stroke-width="2.4"/></g><use href="#tr" x="391.10" y="155.00"/>
<clipPath id="c4_9"><rect x="432.05" y="155.00" width="28.30" height="18.50"/></clipPath><use href="#fr" x="432.05" y="155.00"/><defs><path id="l4_9" d="M433.9 173.7C434.3 173.6 435.1 173.5 436.0 173.1C436.9 172.8 438.5 172.2 439.4 171.8C440.3 171.4 440.6 171.0 441.4 170.7C442.2 170.3 443.3 169.8 444.0 169.5C444.6 169.2 444.8 168.2 445.3 168.9C445.9 169.7 447.0 173.2 447.3 174.1"/></defs><polygon points="442.3,174.1 442.8,169.5 443.2,168.3 443.7,167.6 444.2,167.4 444.7,167.6 445.2,168.3 445.7,169.5 446.2,174.1" fill="#94bde0"/><g clip-path="url(#c4_9)" fill="none" stroke-linejoin="round" stroke-linecap="round"><use href="#l4_9" stroke="#bccbdb" stroke-width="4.2" transform="translate(0,-0.7)"/><use href="#l4_9" stroke="#000" stroke-width="2.4"/></g><use href="#tr" x="432.05" y="155.00"/>
<clipPath id="c4_10"><rect x="473.00" y="155.00" width="28.30" height="18.50"/></clipPath><use href="#fr" x="473.00" y="155.00"/><defs><path id="l4_10" d="M474.9 173.7C475.3 173.6 476.4 173.5 477.3 173.1C478.1 172.8 479.1 172.4 479.9 171.8C480.8 171.2 481.4 170.1 482.5 169.5C483.6 168.9 485.6 167.4 486.6 168.2C487.6 168.9 488.3 173.1 488.6 174.1"/></defs><polygon points="487.5,174.1 488.0,170.8 488.5,169.9 489.0,169.5 489.5,169.3 490.0,169.5 490.5,169.9 491.0,170.8 491.5,174.1" fill="#94bde0"/><g clip-path="url(#c4_10)" fill="none" stroke-linejoin="round" stroke-linecap="round"><use href="#l4_10" stroke="#bccbdb" stroke-width="4.2" transform="translate(0,-0.7)"/><use href="#l4_10" stroke="#000" stroke-width="2.4"/></g><use href="#tr" x="473.00" y="155.00"/>
<clipPath id="c5_0"><rect x="63.50" y="181.90" width="28.30" height="18.50"/></clipPath><use href="#fr" x="63.50" y="181.90"/><defs><path id="l5_0" d="M65.4 200.6C65.6 200.5 66.2 200.2 66.8 199.9C67.4 199.5 68.2 198.9 68.8 198.3C69.4 197.8 70.0 197.1 70.4 196.6C70.9 196.1 71.3 195.6 71.7 195.3C72.0 195.1 72.2 194.9 72.5 195.1C72.8 195.2 73.1 195.5 73.4 196.1C73.7 196.8 74.0 198.4 74.2 199.2C74.4 200.0 74.7 200.7 74.8 201.0"/></defs><g clip-path="url(#c5_0)" fill="none" stroke-linejoin="round" stroke-linecap="round"><use href="#l5_0" stroke="#bccbdb" stroke-width="4.2" transform="translate(0,-0.7)"/><use href="#l5_0" stroke="#000" stroke-width="2.4"/></g><use href="#tr" x="63.50" y="181.90"/>
<clipPath id="c5_1"><rect x="104.45" y="181.90" width="28.30" height="18.50"/></clipPath><use href="#fr" x="104.45" y="181.90"/><defs><path id="l5_1" d="M106.3 200.6C106.6 200.5 107.3 200.2 107.9 199.9C108.6 199.5 109.5 198.8 110.1 198.3C110.8 197.8 111.3 197.3 111.8 196.8C112.3 196.4 112.8 195.9 113.1 195.7C113.5 195.5 113.7 195.3 114.0 195.5C114.3 195.6 114.6 195.8 114.9 196.5C115.2 197.1 115.5 198.6 115.7 199.3C115.9 200.1 116.2 200.7 116.3 201.0"/></defs><polygon points="112.3,201.0 112.7,196.4 113.1,195.2 113.6,194.5 114.0,194.3 114.4,194.5 114.9,195.2 115.3,196.4 115.7,201.0" fill="#94bde0"/><g clip-path="url(#c5_1)" fill="none" stroke-linejoin="round" stroke-linecap="round"><use href="#l5_1" stroke="#bccbdb" stroke-width="4.2" transform="translate(0,-0.7)"/><use href="#l5_1" stroke="#000" stroke-width="2.4"/></g><use href="#tr" x="104.45" y="181.90"/>
<clipPath id="c5_2"><rect x="145.40" y="181.90" width="28.30" height="18.50"/></clipPath><use href="#fr" x="145.40" y="181.90"/><defs><path id="l5_2" d="M147.3 200.6C147.5 200.5 148.2 200.2 148.8 199.9C149.4 199.5 150.3 198.8 150.9 198.3C151.6 197.8 152.1 197.3 152.6 196.8C153.1 196.4 153.6 195.9 153.9 195.7C154.3 195.5 154.3 195.3 154.7 195.5C155.2 195.6 156.0 195.8 156.6 196.5C157.2 197.1 157.7 198.6 158.2 199.3C158.7 200.1 159.2 200.7 159.4 201.0"/></defs><polygon points="153.2,201.0 153.6,195.8 154.1,194.3 154.5,193.6 154.9,193.4 155.4,193.6 155.8,194.3 156.2,195.8 156.7,201.0" fill="#94bde0"/><g clip-path="url(#c5_2)" fill="none" stroke-linejoin="round" stroke-linecap="round"><use href="#l5_2" stroke="#bccbdb" stroke-width="4.2" transform="translate(0,-0.7)"/><use href="#l5_2" stroke="#000" stroke-width="2.4"/></g><use href="#tr" x="145.40" y="181.90"/>
<clipPath id="c5_3"><rect x="186.35" y="181.90" width="28.30" height="18.50"/></clipPath><use href="#fr" x="186.35" y="181.90"/><defs><path id="l5_3" d="M188.2 200.6C188.6 200.5 189.7 200.2 190.6 199.9C191.4 199.5 192.5 198.8 193.3 198.3C194.2 197.8 194.9 197.3 195.5 196.8C196.2 196.4 196.7 195.9 197.2 195.7C197.6 195.5 197.9 195.3 198.3 195.5C198.7 195.6 199.1 195.8 199.5 196.5C199.9 197.1 200.2 198.6 200.5 199.3C200.8 200.1 201.1 200.7 201.3 201.0"/></defs><polygon points="199.4,201.0 200.0,197.1 200.5,196.0 201.1,195.4 201.7,195.3 202.2,195.4 202.8,196.0 203.3,197.1 203.9,201.0" fill="#94bde0"/><g clip-path="url(#c5_3)" fill="none" stroke-linejoin="round" stroke-linecap="round"><use href="#l5_3" stroke="#bccbdb" stroke-width="4.2" transform="translate(0,-0.7)"/><use href="#l5_3" stroke="#000" stroke-width="2.4"/></g><use href="#tr" x="186.35" y="181.90"/>
<clipPath id="c5_4"><rect x="227.30" y="181.90" width="28.30" height="18.50"/></clipPath><use href="#fr" x="227.30" y="181.90"/><defs><path id="l5_4" d="M229.2 200.6C229.5 200.5 230.6 200.2 231.5 199.9C232.3 199.5 233.4 198.8 234.2 198.3C235.0 197.8 235.7 197.3 236.3 196.8C237.0 196.4 237.5 195.9 238.0 195.7C238.4 195.5 238.7 195.3 239.0 195.5C239.4 195.6 239.7 195.8 240.0 196.5C240.3 197.1 240.6 198.6 240.8 199.3C241.1 200.1 241.3 200.7 241.4 201.0"/></defs><g clip-path="url(#c5_4)" fill="none" stroke-linejoin="round" stroke-linecap="round"><use href="#l5_4" stroke="#bccbdb" stroke-width="4.2" transform="translate(0,-0.7)"/><use href="#l5_4" stroke="#000" stroke-width="2.4"/></g><use href="#tr" x="227.30" y="181.90"/>
<clipPath id="c5_5"><rect x="268.25" y="181.90" width="28.30" height="18.50"/></clipPath><use href="#fr" x="268.25" y="181.90"/><defs><path id="l5_5" d="M270.1 200.6C270.4 200.5 271.3 200.2 272.0 199.9C272.7 199.5 273.7 198.8 274.4 198.3C275.1 197.8 275.7 197.3 276.3 196.8C276.8 196.4 277.3 195.9 277.7 195.7C278.1 195.5 278.2 195.3 278.7 195.5C279.1 195.6 279.7 195.8 280.2 196.5C280.7 197.1 281.2 198.6 281.6 199.3C282.0 200.1 282.4 200.7 282.6 201.0"/></defs><g clip-path="url(#c5_5)" fill="none" stroke-linejoin="round" stroke-linecap="round"><use href="#l5_5" stroke="#bccbdb" stroke-width="4.2" transform="translate(0,-0.7)"/><use href="#l5_5" stroke="#000" stroke-width="2.4"/></g><use href="#tr" x="268.25" y="181.90"/>
<clipPath id="c5_6"><rect x="309.20" y="181.90" width="28.30" height="18.50"/></clipPath><use href="#fr" x="309.20" y="181.90"/><defs><path id="l5_6" d="M311.1 200.6C311.4 200.5 312.5 200.2 313.3 199.9C314.1 199.5 315.1 198.8 315.9 198.3C316.7 197.8 317.4 197.4 318.0 197.0C318.6 196.6 319.2 196.1 319.6 195.9C320.0 195.6 320.3 195.5 320.7 195.7C321.1 195.8 321.6 196.0 322.0 196.6C322.5 197.2 322.9 198.7 323.3 199.4C323.6 200.1 324.0 200.7 324.1 201.0"/></defs><g clip-path="url(#c5_6)" fill="none" stroke-linejoin="round" stroke-linecap="round"><use href="#l5_6" stroke="#bccbdb" stroke-width="4.2" transform="translate(0,-0.7)"/><use href="#l5_6" stroke="#000" stroke-width="2.4"/></g><use href="#tr" x="309.20" y="181.90"/>
<clipPath id="c5_7"><rect x="350.15" y="181.90" width="28.30" height="18.50"/></clipPath><use href="#fr" x="350.15" y="181.90"/><defs><path id="l5_7" d="M352.0 200.6C352.4 200.5 353.6 200.2 354.4 199.9C355.3 199.5 356.4 198.8 357.2 198.3C358.1 197.8 358.8 197.4 359.5 197.0C360.1 196.6 360.7 196.1 361.2 195.9C361.6 195.6 361.9 195.5 362.3 195.7C362.7 195.8 363.2 196.0 363.6 196.6C364.0 197.2 364.5 198.7 364.8 199.4C365.1 200.1 365.5 200.7 365.6 201.0"/></defs><polygon points="366.6,201.0 367.2,197.4 367.8,196.3 368.4,195.8 369.1,195.7 369.7,195.8 370.3,196.3 370.9,197.4 371.5,201.0" fill="#94bde0"/><g clip-path="url(#c5_7)" fill="none" stroke-linejoin="round" stroke-linecap="round"><use href="#l5_7" stroke="#bccbdb" stroke-width="4.2" transform="translate(0,-0.7)"/><use href="#l5_7" stroke="#000" stroke-width="2.4"/></g><use href="#tr" x="350.15" y="181.90"/>
<clipPath id="c5_8"><rect x="391.10" y="181.90" width="28.30" height="18.50"/></clipPath><use href="#fr" x="391.10" y="181.90"/><defs><path id="l5_8" d="M393.0 200.6C393.4 200.5 394.5 200.2 395.4 199.9C396.2 199.5 397.3 198.8 398.2 198.3C399.0 197.8 399.8 197.4 400.4 197.0C401.1 196.6 401.6 196.1 402.1 195.9C402.6 195.6 402.8 195.5 403.2 195.7C403.6 195.8 404.1 196.0 404.4 196.6C404.8 197.2 405.2 198.7 405.5 199.4C405.8 200.1 406.1 200.7 406.2 201.0"/></defs><polygon points="407.6,201.0 408.0,197.1 408.5,196.0 409.0,195.4 409.5,195.3 410.0,195.4 410.5,196.0 411.0,197.1 411.5,201.0" fill="#94bde0"/><g clip-path="url(#c5_8)" fill="none" stroke-linejoin="round" stroke-linecap="round"><use href="#l5_8" stroke="#bccbdb" stroke-width="4.2" transform="translate(0,-0.7)"/><use href="#l5_8" stroke="#000" stroke-width="2.4"/></g><use href="#tr" x="391.10" y="181.90"/>
<clipPath id="c5_9"><rect x="432.05" y="181.90" width="28.30" height="18.50"/></clipPath><use href="#fr" x="432.05" y="181.90"/><defs><path id="l5_9" d="M433.9 200.6C434.3 200.5 435.4 200.2 436.3 199.9C437.1 199.5 438.2 198.7 439.0 198.3C439.8 197.9 440.6 197.7 441.2 197.4C441.9 197.1 442.4 196.6 442.9 196.4C443.3 196.2 443.6 196.1 444.0 196.2C444.4 196.3 444.9 196.5 445.3 197.1C445.8 197.6 446.2 198.9 446.5 199.6C446.8 200.2 447.2 200.8 447.3 201.0"/></defs><polygon points="439.9,201.0 440.3,195.8 440.7,194.3 441.2,193.6 441.6,193.4 442.0,193.6 442.5,194.3 442.9,195.8 443.3,201.0" fill="#94bde0"/><g clip-path="url(#c5_9)" fill="none" stroke-linejoin="round" stroke-linecap="round"><use href="#l5_9" stroke="#bccbdb" stroke-width="4.2" transform="translate(0,-0.7)"/><use href="#l5_9" stroke="#000" stroke-width="2.4"/></g><use href="#tr" x="432.05" y="181.90"/>
<clipPath id="c5_10"><rect x="473.00" y="181.90" width="28.30" height="18.50"/></clipPath><use href="#fr" x="473.00" y="181.90"/><defs><path id="l5_10" d="M474.9 200.6C475.3 200.5 476.4 200.2 477.3 199.9C478.2 199.5 479.3 198.9 480.1 198.3C481.0 197.8 481.7 197.1 482.4 196.6C483.1 196.1 483.6 195.6 484.1 195.3C484.6 195.1 484.8 194.9 485.2 195.1C485.6 195.2 486.2 195.5 486.6 196.1C487.0 196.8 487.4 198.4 487.7 199.2C488.1 200.0 488.4 200.7 488.6 201.0"/></defs><g clip-path="url(#c5_10)" fill="none" stroke-linejoin="round" stroke-linecap="round"><use href="#l5_10" stroke="#bccbdb" stroke-width="4.2" transform="translate(0,-0.7)"/><use href="#l5_10" stroke="#000" stroke-width="2.4"/></g><use href="#tr" x="473.00" y="181.90"/>
<clipPath id="c6_0"><rect x="63.50" y="208.80" width="28.30" height="18.50"/></clipPath><use href="#fr" x="63.50" y="208.80"/><defs><path id="l6_0" d="M65.4 227.5C65.6 227.4 66.2 227.1 66.8 226.8C67.4 226.4 68.2 225.8 68.8 225.2C69.4 224.7 70.0 224.0 70.4 223.5C70.9 223.0 71.3 222.5 71.7 222.2C72.0 222.0 72.1 221.8 72.5 222.0C72.8 222.1 73.3 222.4 73.7 223.0C74.0 223.7 74.4 225.3 74.7 226.1C75.0 226.9 75.3 227.6 75.4 227.9"/></defs><g clip-path="url(#c6_0)" fill="none" stroke-linejoin="round" stroke-linecap="round"><use href="#l6_0" stroke="#bccbdb" stroke-width="4.2" transform="translate(0,-0.7)"/><use href="#l6_0" stroke="#000" stroke-width="2.4"/></g><use href="#tr" x="63.50" y="208.80"/>
<clipPath id="c6_1"><rect x="104.45" y="208.80" width="28.30" height="18.50"/></clipPath><use href="#fr" x="104.45" y="208.80"/><defs><path id="l6_1" d="M106.3 227.5C106.6 227.4 107.3 227.1 107.9 226.8C108.6 226.4 109.5 225.7 110.1 225.2C110.8 224.7 111.3 224.2 111.8 223.7C112.3 223.3 112.8 222.8 113.1 222.6C113.5 222.4 113.6 222.2 114.0 222.4C114.4 222.5 115.0 222.7 115.5 223.4C116.0 224.0 116.5 225.5 116.9 226.2C117.3 227.0 117.7 227.6 117.8 227.9"/></defs><g clip-path="url(#c6_1)" fill="none" stroke-linejoin="round" stroke-linecap="round"><use href="#l6_1" stroke="#bccbdb" stroke-width="4.2" transform="translate(0,-0.7)"/><use href="#l6_1" stroke="#000" stroke-width="2.4"/></g><use href="#tr" x="104.45" y="208.80"/>
<clipPath id="c6_2"><rect x="145.40" y="208.80" width="28.30" height="18.50"/></clipPath><use href="#fr" x="145.40" y="208.80"/><defs><path id="l6_2" d="M147.3 227.5C147.5 227.4 148.2 227.1 148.8 226.8C149.4 226.4 150.3 225.7 150.9 225.2C151.6 224.7 152.1 224.2 152.6 223.7C153.1 223.3 153.6 222.8 153.9 222.6C154.3 222.4 154.3 222.2 154.7 222.4C155.2 222.5 156.0 222.7 156.6 223.4C157.2 224.0 157.7 225.5 158.2 226.2C158.7 227.0 159.2 227.6 159.4 227.9"/></defs><g clip-path="url(#c6_2)" fill="none" stroke-linejoin="round" stroke-linecap="round"><use href="#l6_2" stroke="#bccbdb" stroke-width="4.2" transform="translate(0,-0.7)"/><use href="#l6_2" stroke="#000" stroke-width="2.4"/></g><use href="#tr" x="145.40" y="208.80"/>
<clipPath id="c6_3"><rect x="186.35" y="208.80" width="28.30" height="18.50"/></clipPath><use href="#fr" x="186.35" y="208.80"/><defs><path id="l6_3" d="M188.2 227.5C188.5 227.4 189.5 227.1 190.2 226.8C191.0 226.4 192.0 225.7 192.7 225.2C193.5 224.8 194.2 224.4 194.7 224.0C195.3 223.7 195.8 223.2 196.2 222.9C196.7 222.7 196.9 222.6 197.2 222.7C197.6 222.9 198.1 223.1 198.4 223.7C198.8 224.3 199.2 225.6 199.5 226.4C199.8 227.1 200.1 227.6 200.2 227.9"/></defs><g clip-path="url(#c6_3)" fill="none" stroke-linejoin="round" stroke-linecap="round"><use href="#l6_3" stroke="#bccbdb" stroke-width="4.2" transform="translate(0,-0.7)"/><use href="#l6_3" stroke="#000" stroke-width="2.4"/></g><use href="#tr" x="186.35" y="208.80"/>
<clipPath id="c6_4"><rect x="227.30" y="208.80" width="28.30" height="18.50"/></clipPath><use href="#fr" x="227.30" y="208.80"/><defs><path id="l6_4" d="M229.2 227.5C229.5 227.4 230.5 227.1 231.3 226.8C232.1 226.4 233.1 225.7 233.8 225.2C234.6 224.8 235.3 224.4 235.9 224.0C236.5 223.7 237.0 223.2 237.4 222.9C237.9 222.7 238.1 222.6 238.5 222.7C238.9 222.9 239.4 223.1 239.8 223.7C240.2 224.3 240.7 225.6 241.0 226.4C241.3 227.1 241.7 227.6 241.8 227.9"/></defs><g clip-path="url(#c6_4)" fill="none" stroke-linejoin="round" stroke-linecap="round"><use href="#l6_4" stroke="#bccbdb" stroke-width="4.2" transform="translate(0,-0.7)"/><use href="#l6_4" stroke="#000" stroke-width="2.4"/></g><use href="#tr" x="227.30" y="208.80"/>
<clipPath id="c6_5"><rect x="268.25" y="208.80" width="28.30" height="18.50"/></clipPath><use href="#fr" x="268.25" y="208.80"/><defs><path id="l6_5" d="M270.1 227.5C270.4 227.4 271.3 227.1 272.0 226.8C272.7 226.4 273.7 225.7 274.4 225.2C275.1 224.8 275.7 224.4 276.3 224.0C276.8 223.7 277.3 223.2 277.7 222.9C278.1 222.7 278.2 222.6 278.7 222.7C279.1 222.9 279.7 223.1 280.2 223.7C280.7 224.3 281.2 225.6 281.6 226.4C282.0 227.1 282.4 227.6 282.6 227.9"/></defs><g clip-path="url(#c6_5)" fill="none" stroke-linejoin="round" stroke-linecap="round"><use href="#l6_5" stroke="#bccbdb" stroke-width="4.2" transform="translate(0,-0.7)"/><use href="#l6_5" stroke="#000" stroke-width="2.4"/></g><use href="#tr" x="268.25" y="208.80"/>
<clipPath id="c6_6"><rect x="309.20" y="208.80" width="28.30" height="18.50"/></clipPath><use href="#fr" x="309.20" y="208.80"/><defs><path id="l6_6" d="M311.1 227.5C311.4 227.4 312.4 227.1 313.1 226.8C313.9 226.4 314.9 225.7 315.6 225.2C316.4 224.7 317.1 224.3 317.7 223.9C318.2 223.5 318.8 223.0 319.2 222.8C319.6 222.5 319.8 222.4 320.2 222.6C320.5 222.7 321.0 222.9 321.3 223.5C321.7 224.1 322.1 225.6 322.3 226.3C322.6 227.0 322.9 227.6 323.1 227.9"/></defs><polygon points="318.0,227.9 318.4,223.0 318.8,221.6 319.3,220.9 319.7,220.6 320.1,220.9 320.6,221.6 321.0,223.0 321.4,227.9" fill="#94bde0"/><g clip-path="url(#c6_6)" fill="none" stroke-linejoin="round" stroke-linecap="round"><use href="#l6_6" stroke="#bccbdb" stroke-width="4.2" transform="translate(0,-0.7)"/><use href="#l6_6" stroke="#000" stroke-width="2.4"/></g><use href="#tr" x="309.20" y="208.80"/>
<clipPath id="c6_7"><rect x="350.15" y="208.80" width="28.30" height="18.50"/></clipPath><use href="#fr" x="350.15" y="208.80"/><defs><path id="l6_7" d="M352.0 227.5C352.4 227.4 353.3 227.1 354.1 226.8C354.8 226.4 355.8 225.7 356.6 225.2C357.4 224.7 358.0 224.3 358.6 223.9C359.2 223.5 359.7 223.0 360.1 222.8C360.5 222.5 360.7 222.4 361.1 222.6C361.5 222.7 362.1 222.9 362.5 223.5C362.9 224.1 363.3 225.6 363.7 226.3C364.0 227.0 364.4 227.6 364.5 227.9"/></defs><g clip-path="url(#c6_7)" fill="none" stroke-linejoin="round" stroke-linecap="round"><use href="#l6_7" stroke="#bccbdb" stroke-width="4.2" transform="translate(0,-0.7)"/><use href="#l6_7" stroke="#000" stroke-width="2.4"/></g><use href="#tr" x="350.15" y="208.80"/>
<clipPath id="c6_8"><rect x="391.10" y="208.80" width="28.30" height="18.50"/></clipPath><use href="#fr" x="391.10" y="208.80"/><defs><path id="l6_8" d="M393.0 227.5C393.3 227.4 394.3 227.1 395.1 226.8C395.9 226.4 396.9 225.7 397.6 225.2C398.4 224.7 399.1 224.2 399.7 223.7C400.3 223.3 400.8 222.8 401.2 222.6C401.7 222.4 401.9 222.2 402.3 222.4C402.6 222.5 403.1 222.7 403.5 223.4C403.8 224.0 404.2 225.5 404.5 226.2C404.8 227.0 405.1 227.6 405.2 227.9"/></defs><g clip-path="url(#c6_8)" fill="none" stroke-linejoin="round" stroke-linecap="round"><use href="#l6_8" stroke="#bccbdb" stroke-width="4.2" transform="translate(0,-0.7)"/><use href="#l6_8" stroke="#000" stroke-width="2.4"/></g><use href="#tr" x="391.10" y="208.80"/>
<clipPath id="c6_9"><rect x="432.05" y="208.80" width="28.30" height="18.50"/></clipPath><use href="#fr" x="432.05" y="208.80"/><defs><path id="l6_9" d="M433.9 227.5C434.3 227.4 435.3 227.1 436.1 226.8C436.9 226.4 437.9 225.8 438.7 225.2C439.4 224.7 440.1 224.0 440.7 223.5C441.3 223.0 441.8 222.5 442.3 222.2C442.7 222.0 443.0 221.8 443.3 222.0C443.7 222.1 444.1 222.4 444.4 223.0C444.7 223.7 445.1 225.3 445.3 226.1C445.6 226.9 445.9 227.6 446.0 227.9"/></defs><g clip-path="url(#c6_9)" fill="none" stroke-linejoin="round" stroke-linecap="round"><use href="#l6_9" stroke="#bccbdb" stroke-width="4.2" transform="translate(0,-0.7)"/><use href="#l6_9" stroke="#000" stroke-width="2.4"/></g><use href="#tr" x="432.05" y="208.80"/>
<clipPath id="c6_10"><rect x="473.00" y="208.80" width="28.30" height="18.50"/></clipPath><use href="#fr" x="473.00" y="208.80"/><defs><path id="l6_10" d="M474.9 227.5C475.3 227.4 476.4 227.1 477.3 226.8C478.2 226.4 479.3 225.8 480.1 225.2C481.0 224.7 481.7 224.0 482.4 223.5C483.1 223.0 483.6 222.5 484.1 222.2C484.6 222.0 484.9 221.8 485.2 222.0C485.6 222.1 486.0 222.4 486.3 223.0C486.6 223.7 487.0 225.3 487.2 226.1C487.5 226.9 487.8 227.6 487.9 227.9"/></defs><g clip-path="url(#c6_10)" fill="none" stroke-linejoin="round" stroke-linecap="round"><use href="#l6_10" stroke="#bccbdb" stroke-width="4.2" transform="translate(0,-0.7)"/><use href="#l6_10" stroke="#000" stroke-width="2.4"/></g><use href="#tr" x="473.00" y="208.80"/>
<clipPath id="c7_0"><rect x="63.50" y="235.70" width="28.30" height="18.50"/></clipPath><use href="#fr" x="63.50" y="235.70"/><defs><path id="l7_0" d="M65.4 254.4C65.6 254.3 66.3 254.0 66.8 253.7C67.4 253.3 68.3 252.6 68.9 252.1C69.5 251.6 70.0 251.2 70.5 250.8C71.0 250.4 71.4 249.9 71.7 249.7C72.1 249.4 72.2 249.3 72.6 249.5C72.9 249.6 73.6 249.8 74.0 250.4C74.5 251.0 74.9 252.5 75.3 253.2C75.7 253.9 76.1 254.5 76.2 254.8"/></defs><g clip-path="url(#c7_0)" fill="none" stroke-linejoin="round" stroke-linecap="round"><use href="#l7_0" stroke="#bccbdb" stroke-width="4.2" transform="translate(0,-0.7)"/><use href="#l7_0" stroke="#000" stroke-width="2.4"/></g><use href="#tr" x="63.50" y="235.70"/>
<clipPath id="c7_1"><rect x="104.45" y="235.70" width="28.30" height="18.50"/></clipPath><use href="#fr" x="104.45" y="235.70"/><defs><path id="l7_1" d="M106.3 254.4C106.5 254.3 107.1 254.0 107.6 253.7C108.2 253.3 109.0 252.6 109.5 252.1C110.1 251.7 110.6 251.3 111.0 250.9C111.5 250.6 111.9 250.1 112.2 249.8C112.5 249.6 112.5 249.5 112.9 249.6C113.3 249.8 114.0 250.0 114.5 250.6C115.1 251.2 115.6 252.5 116.0 253.3C116.4 254.0 116.8 254.5 117.0 254.8"/></defs><polygon points="117.8,254.8 118.5,251.2 119.1,250.1 119.7,249.6 120.4,249.5 121.0,249.6 121.6,250.1 122.3,251.2 122.9,254.8" fill="#94bde0"/><g clip-path="url(#c7_1)" fill="none" stroke-linejoin="round" stroke-linecap="round"><use href="#l7_1" stroke="#bccbdb" stroke-width="4.2" transform="translate(0,-0.7)"/><use href="#l7_1" stroke="#000" stroke-width="2.4"/></g><use href="#tr" x="104.45" y="235.70"/>
<clipPath id="c7_2"><rect x="145.40" y="235.70" width="28.30" height="18.50"/></clipPath><use href="#fr" x="145.40" y="235.70"/><defs><path id="l7_2" d="M147.3 254.4C147.5 254.3 148.2 254.0 148.7 253.7C149.3 253.3 150.2 252.6 150.8 252.1C151.4 251.6 151.9 251.2 152.4 250.8C152.9 250.4 153.3 249.9 153.6 249.7C154.0 249.4 154.0 249.3 154.5 249.5C154.9 249.6 155.7 249.8 156.3 250.4C156.8 251.0 157.4 252.5 157.8 253.2C158.3 253.9 158.8 254.5 159.0 254.8"/></defs><polygon points="153.2,254.8 153.6,250.9 154.1,249.8 154.5,249.2 154.9,249.1 155.4,249.2 155.8,249.8 156.2,250.9 156.7,254.8" fill="#94bde0"/><g clip-path="url(#c7_2)" fill="none" stroke-linejoin="round" stroke-linecap="round"><use href="#l7_2" stroke="#bccbdb" stroke-width="4.2" transform="translate(0,-0.7)"/><use href="#l7_2" stroke="#000" stroke-width="2.4"/></g><use href="#tr" x="145.40" y="235.70"/>
<clipPath id="c7_3"><rect x="186.35" y="235.70" width="28.30" height="18.50"/></clipPath><use href="#fr" x="186.35" y="235.70"/><defs><path id="l7_3" d="M188.2 254.4C188.5 254.3 189.4 254.0 190.1 253.7C190.9 253.3 191.8 252.6 192.5 252.1C193.3 251.6 193.9 251.1 194.5 250.6C195.0 250.2 195.5 249.7 195.9 249.5C196.3 249.3 196.5 249.1 196.9 249.3C197.2 249.4 197.6 249.6 198.0 250.3C198.4 250.9 198.7 252.4 199.0 253.1C199.3 253.9 199.6 254.5 199.7 254.8"/></defs><g clip-path="url(#c7_3)" fill="none" stroke-linejoin="round" stroke-linecap="round"><use href="#l7_3" stroke="#bccbdb" stroke-width="4.2" transform="translate(0,-0.7)"/><use href="#l7_3" stroke="#000" stroke-width="2.4"/></g><use href="#tr" x="186.35" y="235.70"/>
<clipPath id="c7_4"><rect x="227.30" y="235.70" width="28.30" height="18.50"/></clipPath><use href="#fr" x="227.30" y="235.70"/><defs><path id="l7_4" d="M229.2 254.4C229.5 254.3 230.4 254.0 231.1 253.7C231.8 253.3 232.8 252.6 233.5 252.1C234.2 251.6 234.8 251.1 235.4 250.6C236.0 250.2 236.4 249.7 236.8 249.5C237.2 249.3 237.4 249.1 237.8 249.3C238.2 249.4 238.8 249.6 239.3 250.3C239.7 250.9 240.2 252.4 240.5 253.1C240.9 253.9 241.3 254.5 241.4 254.8"/></defs><polygon points="238.5,254.8 239.0,250.9 239.5,249.8 239.9,249.2 240.4,249.1 240.9,249.2 241.4,249.8 241.9,250.9 242.4,254.8" fill="#94bde0"/><g clip-path="url(#c7_4)" fill="none" stroke-linejoin="round" stroke-linecap="round"><use href="#l7_4" stroke="#bccbdb" stroke-width="4.2" transform="translate(0,-0.7)"/><use href="#l7_4" stroke="#000" stroke-width="2.4"/></g><use href="#tr" x="227.30" y="235.70"/>
<clipPath id="c7_5"><rect x="268.25" y="235.70" width="28.30" height="18.50"/></clipPath><use href="#fr" x="268.25" y="235.70"/><defs><path id="l7_5" d="M270.1 254.4C270.4 254.3 271.3 254.0 272.0 253.7C272.7 253.3 273.7 252.6 274.4 252.1C275.1 251.7 275.7 251.3 276.3 250.9C276.8 250.6 277.3 250.1 277.7 249.8C278.1 249.6 278.3 249.5 278.7 249.6C279.0 249.8 279.6 250.0 280.0 250.6C280.4 251.2 280.8 252.5 281.2 253.3C281.5 254.0 281.9 254.5 282.0 254.8"/></defs><g clip-path="url(#c7_5)" fill="none" stroke-linejoin="round" stroke-linecap="round"><use href="#l7_5" stroke="#bccbdb" stroke-width="4.2" transform="translate(0,-0.7)"/><use href="#l7_5" stroke="#000" stroke-width="2.4"/></g><use href="#tr" x="268.25" y="235.70"/>
<clipPath id="c7_6"><rect x="309.20" y="235.70" width="28.30" height="18.50"/></clipPath><use href="#fr" x="309.20" y="235.70"/><defs><path id="l7_6" d="M311.1 254.4C311.4 254.3 312.2 254.0 313.0 253.7C313.7 253.3 314.6 252.7 315.3 252.1C316.0 251.6 316.7 251.0 317.2 250.5C317.8 250.0 318.3 249.5 318.7 249.3C319.0 249.1 319.2 248.9 319.6 249.1C320.0 249.2 320.4 249.4 320.8 250.1C321.2 250.8 321.6 252.3 321.9 253.1C322.2 253.9 322.5 254.5 322.7 254.8"/></defs><polygon points="321.3,254.8 321.8,251.5 322.3,250.6 322.8,250.2 323.3,250.0 323.8,250.2 324.3,250.6 324.8,251.5 325.3,254.8" fill="#94bde0"/><g clip-path="url(#c7_6)" fill="none" stroke-linejoin="round" stroke-linecap="round"><use href="#l7_6" stroke="#bccbdb" stroke-width="4.2" transform="translate(0,-0.7)"/><use href="#l7_6" stroke="#000" stroke-width="2.4"/></g><use href="#tr" x="309.20" y="235.70"/>
<clipPath id="c7_7"><rect x="350.15" y="235.70" width="28.30" height="18.50"/></clipPath><use href="#fr" x="350.15" y="235.70"/><defs><path id="l7_7" d="M352.0 254.4C352.4 254.3 353.3 254.0 354.1 253.7C354.8 253.3 355.8 252.7 356.6 252.1C357.4 251.6 358.0 251.0 358.6 250.5C359.2 250.0 359.7 249.5 360.1 249.3C360.5 249.1 360.8 248.9 361.1 249.1C361.5 249.2 362.0 249.4 362.4 250.1C362.8 250.8 363.2 252.3 363.5 253.1C363.8 253.9 364.2 254.5 364.3 254.8"/></defs><polygon points="361.8,254.8 362.4,251.5 362.9,250.6 363.5,250.2 364.0,250.0 364.6,250.2 365.1,250.6 365.7,251.5 366.2,254.8" fill="#94bde0"/><g clip-path="url(#c7_7)" fill="none" stroke-linejoin="round" stroke-linecap="round"><use href="#l7_7" stroke="#bccbdb" stroke-width="4.2" transform="translate(0,-0.7)"/><use href="#l7_7" stroke="#000" stroke-width="2.4"/></g><use href="#tr" x="350.15" y="235.70"/>
<clipPath id="c7_8"><rect x="391.10" y="235.70" width="28.30" height="18.50"/></clipPath><use href="#fr" x="391.10" y="235.70"/><defs><path id="l7_8" d="M393.0 254.4C393.3 254.3 394.4 254.0 395.2 253.7C396.0 253.3 397.0 252.7 397.8 252.1C398.6 251.6 399.3 251.0 399.9 250.5C400.5 250.0 401.1 249.5 401.5 249.3C401.9 249.1 402.2 248.9 402.6 249.1C402.9 249.2 403.3 249.4 403.6 250.1C404.0 250.8 404.3 252.3 404.6 253.1C404.8 253.9 405.1 254.5 405.2 254.8"/></defs><g clip-path="url(#c7_8)" fill="none" stroke-linejoin="round" stroke-linecap="round"><use href="#l7_8" stroke="#bccbdb" stroke-width="4.2" transform="translate(0,-0.7)"/><use href="#l7_8" stroke="#000" stroke-width="2.4"/></g><use href="#tr" x="391.10" y="235.70"/>
<clipPath id="c7_9"><rect x="432.05" y="235.70" width="28.30" height="18.50"/></clipPath><use href="#fr" x="432.05" y="235.70"/><defs><path id="l7_9" d="M433.9 254.4C434.3 254.3 435.4 254.0 436.3 253.7C437.1 253.3 438.2 252.7 439.0 252.1C439.8 251.6 440.6 251.0 441.2 250.5C441.9 250.0 442.4 249.5 442.9 249.3C443.3 249.1 443.6 248.9 444.0 249.1C444.4 249.2 444.7 249.4 445.1 250.1C445.4 250.8 445.7 252.3 446.0 253.1C446.3 253.9 446.6 254.5 446.7 254.8"/></defs><g clip-path="url(#c7_9)" fill="none" stroke-linejoin="round" stroke-linecap="round"><use href="#l7_9" stroke="#bccbdb" stroke-width="4.2" transform="translate(0,-0.7)"/><use href="#l7_9" stroke="#000" stroke-width="2.4"/></g><use href="#tr" x="432.05" y="235.70"/>
<clipPath id="c7_10"><rect x="473.00" y="235.70" width="28.30" height="18.50"/></clipPath><use href="#fr" x="473.00" y="235.70"/><defs><path id="l7_10" d="M474.9 254.4C475.2 254.3 476.0 254.0 476.7 253.7C477.4 253.3 478.3 252.7 479.0 252.1C479.7 251.5 480.3 250.5 480.9 249.9C481.4 249.3 481.9 248.8 482.3 248.6C482.7 248.3 482.7 248.2 483.2 248.3C483.7 248.5 484.5 248.7 485.1 249.5C485.7 250.2 486.3 252.0 486.7 252.9C487.2 253.7 487.7 254.5 487.9 254.8"/></defs><g clip-path="url(#c7_10)" fill="none" stroke-linejoin="round" stroke-linecap="round"><use href="#l7_10" stroke="#bccbdb" stroke-width="4.2" transform="translate(0,-0.7)"/><use href="#l7_10" stroke="#000" stroke-width="2.4"/></g><use href="#tr" x="473.00" y="235.70"/>
<clipPath id="c8_0"><rect x="63.50" y="262.60" width="28.30" height="18.50"/></clipPath><use href="#fr" x="63.50" y="262.60"/><defs><path id="l8_0" d="M65.4 281.3C65.6 281.2 66.2 280.9 66.7 280.6C67.2 280.2 68.0 279.6 68.6 279.0C69.2 278.5 69.7 277.8 70.2 277.3C70.6 276.8 71.0 276.3 71.3 276.0C71.6 275.8 71.7 275.6 72.1 275.8C72.4 275.9 73.0 276.2 73.4 276.8C73.8 277.5 74.3 279.1 74.6 279.9C74.9 280.7 75.3 281.4 75.4 281.7"/></defs><polygon points="70.4,281.7 70.8,277.1 71.2,275.9 71.6,275.2 72.1,275.0 72.5,275.2 72.9,275.9 73.4,277.1 73.8,281.7" fill="#94bde0"/><g clip-path="url(#c8_0)" fill="none" stroke-linejoin="round" stroke-linecap="round"><use href="#l8_0" stroke="#bccbdb" stroke-width="4.2" transform="translate(0,-0.7)"/><use href="#l8_0" stroke="#000" stroke-width="2.4"/></g><use href="#tr" x="63.50" y="262.60"/>
<clipPath id="c8_1"><rect x="104.45" y="262.60" width="28.30" height="18.50"/></clipPath><use href="#fr" x="104.45" y="262.60"/><defs><path id="l8_1" d="M106.3 281.3C106.5 281.2 107.2 280.9 107.7 280.6C108.3 280.2 109.1 279.5 109.7 279.0C110.3 278.5 110.9 278.0 111.3 277.5C111.8 277.1 112.2 276.6 112.5 276.4C112.9 276.2 112.9 276.0 113.3 276.2C113.7 276.3 114.5 276.5 115.0 277.2C115.5 277.8 116.0 279.3 116.4 280.0C116.8 280.8 117.3 281.4 117.4 281.7"/></defs><g clip-path="url(#c8_1)" fill="none" stroke-linejoin="round" stroke-linecap="round"><use href="#l8_1" stroke="#bccbdb" stroke-width="4.2" transform="translate(0,-0.7)"/><use href="#l8_1" stroke="#000" stroke-width="2.4"/></g><use href="#tr" x="104.45" y="262.60"/>
<clipPath id="c8_2"><rect x="145.40" y="262.60" width="28.30" height="18.50"/></clipPath><use href="#fr" x="145.40" y="262.60"/><defs><path id="l8_2" d="M147.3 281.3C147.5 281.2 148.2 280.9 148.8 280.6C149.4 280.2 150.3 279.6 150.9 279.0C151.6 278.5 152.1 277.9 152.6 277.4C153.1 276.9 153.6 276.4 153.9 276.2C154.3 276.0 154.3 275.8 154.7 276.0C155.2 276.1 156.0 276.3 156.6 277.0C157.2 277.7 157.7 279.2 158.2 280.0C158.7 280.8 159.2 281.4 159.4 281.7"/></defs><g clip-path="url(#c8_2)" fill="none" stroke-linejoin="round" stroke-linecap="round"><use href="#l8_2" stroke="#bccbdb" stroke-width="4.2" transform="translate(0,-0.7)"/><use href="#l8_2" stroke="#000" stroke-width="2.4"/></g><use href="#tr" x="145.40" y="262.60"/>
<clipPath id="c8_3"><rect x="186.35" y="262.60" width="28.30" height="18.50"/></clipPath><use href="#fr" x="186.35" y="262.60"/><defs><path id="l8_3" d="M188.2 281.3C188.5 281.2 189.3 280.9 190.0 280.6C190.7 280.2 191.6 279.6 192.3 279.0C193.0 278.5 193.6 277.9 194.1 277.4C194.6 276.9 195.1 276.4 195.5 276.2C195.8 276.0 196.0 275.8 196.4 276.0C196.7 276.1 197.2 276.3 197.6 277.0C198.0 277.7 198.4 279.2 198.7 280.0C199.1 280.8 199.4 281.4 199.5 281.7"/></defs><g clip-path="url(#c8_3)" fill="none" stroke-linejoin="round" stroke-linecap="round"><use href="#l8_3" stroke="#bccbdb" stroke-width="4.2" transform="translate(0,-0.7)"/><use href="#l8_3" stroke="#000" stroke-width="2.4"/></g><use href="#tr" x="186.35" y="262.60"/>
<clipPath id="c8_4"><rect x="227.30" y="262.60" width="28.30" height="18.50"/></clipPath><use href="#fr" x="227.30" y="262.60"/><defs><path id="l8_4" d="M229.2 281.3C229.5 281.2 230.3 280.9 230.9 280.6C231.6 280.2 232.5 279.6 233.2 279.0C233.9 278.5 234.5 277.9 235.0 277.4C235.6 276.9 236.0 276.4 236.4 276.2C236.8 276.0 236.9 275.8 237.3 276.0C237.7 276.1 238.2 276.3 238.7 277.0C239.1 277.7 239.5 279.2 239.8 280.0C240.2 280.8 240.5 281.4 240.7 281.7"/></defs><g clip-path="url(#c8_4)" fill="none" stroke-linejoin="round" stroke-linecap="round"><use href="#l8_4" stroke="#bccbdb" stroke-width="4.2" transform="translate(0,-0.7)"/><use href="#l8_4" stroke="#000" stroke-width="2.4"/></g><use href="#tr" x="227.30" y="262.60"/>
<clipPath id="c8_5"><rect x="268.25" y="262.60" width="28.30" height="18.50"/></clipPath><use href="#fr" x="268.25" y="262.60"/><defs><path id="l8_5" d="M270.1 281.3C270.5 281.2 271.4 280.9 272.2 280.6C272.9 280.2 273.9 279.5 274.7 279.0C275.4 278.5 276.1 278.0 276.7 277.5C277.3 277.1 277.8 276.6 278.2 276.4C278.6 276.2 278.9 276.0 279.2 276.2C279.6 276.3 280.0 276.5 280.3 277.2C280.7 277.8 281.0 279.3 281.3 280.0C281.6 280.8 281.9 281.4 282.0 281.7"/></defs><g clip-path="url(#c8_5)" fill="none" stroke-linejoin="round" stroke-linecap="round"><use href="#l8_5" stroke="#bccbdb" stroke-width="4.2" transform="translate(0,-0.7)"/><use href="#l8_5" stroke="#000" stroke-width="2.4"/></g><use href="#tr" x="268.25" y="262.60"/>
<clipPath id="c8_6"><rect x="309.20" y="262.60" width="28.30" height="18.50"/></clipPath><use href="#fr" x="309.20" y="262.60"/><defs><path id="l8_6" d="M311.1 281.3C311.3 281.2 312.1 280.9 312.7 280.6C313.3 280.2 314.2 279.6 314.9 279.0C315.5 278.5 316.1 277.9 316.6 277.4C317.1 276.9 317.5 276.4 317.9 276.2C318.2 276.0 318.4 275.8 318.7 276.0C319.1 276.1 319.5 276.3 319.9 277.0C320.3 277.7 320.6 279.2 320.9 280.0C321.2 280.8 321.5 281.4 321.6 281.7"/></defs><polygon points="317.0,281.7 317.4,276.5 317.9,275.0 318.3,274.3 318.7,274.1 319.2,274.3 319.6,275.0 320.0,276.5 320.5,281.7" fill="#94bde0"/><g clip-path="url(#c8_6)" fill="none" stroke-linejoin="round" stroke-linecap="round"><use href="#l8_6" stroke="#bccbdb" stroke-width="4.2" transform="translate(0,-0.7)"/><use href="#l8_6" stroke="#000" stroke-width="2.4"/></g><use href="#tr" x="309.20" y="262.60"/>
<clipPath id="c8_7"><rect x="350.15" y="262.60" width="28.30" height="18.50"/></clipPath><use href="#fr" x="350.15" y="262.60"/><defs><path id="l8_7" d="M352.0 281.3C352.3 281.2 352.9 280.9 353.5 280.6C354.1 280.2 354.9 279.6 355.5 279.0C356.2 278.5 356.7 277.9 357.2 277.4C357.6 276.9 358.1 276.4 358.4 276.2C358.7 276.0 358.8 275.8 359.2 276.0C359.6 276.1 360.3 276.3 360.7 277.0C361.2 277.7 361.7 279.2 362.1 280.0C362.5 280.8 362.9 281.4 363.1 281.7"/></defs><polygon points="358.9,281.7 359.4,277.1 359.8,275.9 360.2,275.2 360.7,275.0 361.1,275.2 361.5,275.9 361.9,277.1 362.4,281.7" fill="#94bde0"/><g clip-path="url(#c8_7)" fill="none" stroke-linejoin="round" stroke-linecap="round"><use href="#l8_7" stroke="#bccbdb" stroke-width="4.2" transform="translate(0,-0.7)"/><use href="#l8_7" stroke="#000" stroke-width="2.4"/></g><use href="#tr" x="350.15" y="262.60"/>
<clipPath id="c8_8"><rect x="391.10" y="262.60" width="28.30" height="18.50"/></clipPath><use href="#fr" x="391.10" y="262.60"/><defs><path id="l8_8" d="M393.0 281.3C393.3 281.2 394.2 280.9 395.0 280.6C395.7 280.2 396.7 279.5 397.4 279.0C398.2 278.5 398.8 278.1 399.4 277.7C400.0 277.3 400.5 276.8 400.9 276.6C401.3 276.3 401.5 276.2 401.9 276.4C402.2 276.5 402.6 276.7 403.0 277.3C403.3 277.9 403.6 279.4 403.9 280.1C404.2 280.8 404.5 281.4 404.6 281.7"/></defs><g clip-path="url(#c8_8)" fill="none" stroke-linejoin="round" stroke-linecap="round"><use href="#l8_8" stroke="#bccbdb" stroke-width="4.2" transform="translate(0,-0.7)"/><use href="#l8_8" stroke="#000" stroke-width="2.4"/></g><use href="#tr" x="391.10" y="262.60"/>
<clipPath id="c8_9"><rect x="432.05" y="262.60" width="28.30" height="18.50"/></clipPath><use href="#fr" x="432.05" y="262.60"/><defs><path id="l8_9" d="M433.9 281.3C434.3 281.2 435.2 280.9 436.0 280.6C436.7 280.2 437.7 279.6 438.5 279.0C439.2 278.5 439.9 277.9 440.5 277.4C441.1 276.9 441.6 276.4 442.0 276.2C442.4 276.0 442.7 275.8 443.0 276.0C443.4 276.1 443.7 276.3 444.1 277.0C444.4 277.7 444.7 279.2 445.0 280.0C445.2 280.8 445.5 281.4 445.6 281.7"/></defs><g clip-path="url(#c8_9)" fill="none" stroke-linejoin="round" stroke-linecap="round"><use href="#l8_9" stroke="#bccbdb" stroke-width="4.2" transform="translate(0,-0.7)"/><use href="#l8_9" stroke="#000" stroke-width="2.4"/></g><use href="#tr" x="432.05" y="262.60"/>
<clipPath id="c8_10"><rect x="473.00" y="262.60" width="28.30" height="18.50"/></clipPath><use href="#fr" x="473.00" y="262.60"/><defs><path id="l8_10" d="M474.9 281.3C475.1 281.2 475.7 280.9 476.3 280.6C476.9 280.2 477.7 279.6 478.3 279.0C478.9 278.5 479.4 277.8 479.9 277.3C480.3 276.8 480.7 276.3 481.1 276.0C481.4 275.8 481.5 275.6 481.9 275.8C482.3 275.9 482.9 276.2 483.4 276.8C483.8 277.5 484.3 279.1 484.7 279.9C485.1 280.7 485.5 281.4 485.6 281.7"/></defs><g clip-path="url(#c8_10)" fill="none" stroke-linejoin="round" stroke-linecap="round"><use href="#l8_10" stroke="#bccbdb" stroke-width="4.2" transform="translate(0,-0.7)"/><use href="#l8_10" stroke="#000" stroke-width="2.4"/></g><use href="#tr" x="473.00" y="262.60"/>
<clipPath id="c9_0"><rect x="63.50" y="289.50" width="28.30" height="18.50"/></clipPath><use href="#fr" x="63.50" y="289.50"/><defs><path id="l9_0" d="M65.4 308.2C65.6 308.1 66.4 307.8 67.0 307.5C67.6 307.1 68.5 306.5 69.2 305.9C69.8 305.4 70.4 304.8 70.9 304.3C71.4 303.8 71.8 303.3 72.2 303.1C72.5 302.9 72.7 302.7 73.0 302.9C73.4 303.0 73.9 303.2 74.3 303.9C74.7 304.6 75.1 306.1 75.4 306.9C75.7 307.7 76.1 308.3 76.2 308.6"/></defs><polygon points="69.4,308.6 69.8,302.7 70.3,301.1 70.7,300.3 71.1,300.0 71.6,300.3 72.0,301.1 72.4,302.7 72.8,308.6" fill="#94bde0"/><g clip-path="url(#c9_0)" fill="none" stroke-linejoin="round" stroke-linecap="round"><use href="#l9_0" stroke="#bccbdb" stroke-width="4.2" transform="translate(0,-0.7)"/><use href="#l9_0" stroke="#000" stroke-width="2.4"/></g><use href="#tr" x="63.50" y="289.50"/>
<clipPath id="c9_1"><rect x="104.45" y="289.50" width="28.30" height="18.50"/></clipPath><use href="#fr" x="104.45" y="289.50"/><defs><path id="l9_1" d="M106.3 308.2C106.5 308.1 107.2 307.8 107.7 307.5C108.3 307.1 109.1 306.4 109.7 305.9C110.3 305.4 110.9 304.9 111.3 304.4C111.8 304.0 112.2 303.5 112.5 303.3C112.9 303.1 112.9 302.9 113.3 303.1C113.7 303.2 114.3 303.4 114.8 304.1C115.2 304.7 115.7 306.2 116.1 306.9C116.4 307.7 116.8 308.3 117.0 308.6"/></defs><g clip-path="url(#c9_1)" fill="none" stroke-linejoin="round" stroke-linecap="round"><use href="#l9_1" stroke="#bccbdb" stroke-width="4.2" transform="translate(0,-0.7)"/><use href="#l9_1" stroke="#000" stroke-width="2.4"/></g><use href="#tr" x="104.45" y="289.50"/>
<clipPath id="c9_2"><rect x="145.40" y="289.50" width="28.30" height="18.50"/></clipPath><use href="#fr" x="145.40" y="289.50"/><defs><path id="l9_2" d="M147.3 308.2C147.5 308.1 148.2 307.8 148.8 307.5C149.4 307.1 150.3 306.5 150.9 305.9C151.6 305.4 152.1 304.8 152.6 304.3C153.1 303.8 153.6 303.3 153.9 303.1C154.3 302.9 154.2 302.7 154.7 302.9C155.3 303.0 156.3 303.2 157.1 303.9C157.8 304.6 158.5 306.1 159.1 306.9C159.6 307.7 160.3 308.3 160.5 308.6"/></defs><polygon points="153.2,308.6 153.6,303.4 154.1,301.9 154.5,301.2 154.9,301.0 155.4,301.2 155.8,301.9 156.2,303.4 156.7,308.6" fill="#94bde0"/><g clip-path="url(#c9_2)" fill="none" stroke-linejoin="round" stroke-linecap="round"><use href="#l9_2" stroke="#bccbdb" stroke-width="4.2" transform="translate(0,-0.7)"/><use href="#l9_2" stroke="#000" stroke-width="2.4"/></g><use href="#tr" x="145.40" y="289.50"/>
<clipPath id="c9_3"><rect x="186.35" y="289.50" width="28.30" height="18.50"/></clipPath><use href="#fr" x="186.35" y="289.50"/><defs><path id="l9_3" d="M188.2 308.2C188.5 308.1 189.3 307.8 190.0 307.5C190.7 307.1 191.6 306.5 192.3 305.9C193.0 305.4 193.6 304.8 194.1 304.3C194.6 303.8 195.1 303.3 195.5 303.1C195.8 302.9 196.0 302.7 196.4 302.9C196.7 303.0 197.3 303.2 197.7 303.9C198.1 304.6 198.6 306.1 198.9 306.9C199.2 307.7 199.6 308.3 199.7 308.6"/></defs><g clip-path="url(#c9_3)" fill="none" stroke-linejoin="round" stroke-linecap="round"><use href="#l9_3" stroke="#bccbdb" stroke-width="4.2" transform="translate(0,-0.7)"/><use href="#l9_3" stroke="#000" stroke-width="2.4"/></g><use href="#tr" x="186.35" y="289.50"/>
<clipPath id="c9_4"><rect x="227.30" y="289.50" width="28.30" height="18.50"/></clipPath><use href="#fr" x="227.30" y="289.50"/><defs><path id="l9_4" d="M229.2 308.2C229.5 308.1 230.3 307.8 230.9 307.5C231.6 307.1 232.5 306.5 233.2 305.9C233.9 305.4 234.5 304.8 235.0 304.3C235.6 303.8 236.0 303.3 236.4 303.1C236.8 302.9 236.9 302.7 237.3 302.9C237.7 303.0 238.3 303.2 238.7 303.9C239.2 304.6 239.6 306.1 240.0 306.9C240.3 307.7 240.7 308.3 240.9 308.6"/></defs><g clip-path="url(#c9_4)" fill="none" stroke-linejoin="round" stroke-linecap="round"><use href="#l9_4" stroke="#bccbdb" stroke-width="4.2" transform="translate(0,-0.7)"/><use href="#l9_4" stroke="#000" stroke-width="2.4"/></g><use href="#tr" x="227.30" y="289.50"/>
<clipPath id="c9_5"><rect x="268.25" y="289.50" width="28.30" height="18.50"/></clipPath><use href="#fr" x="268.25" y="289.50"/><defs><path id="l9_5" d="M270.1 308.2C270.4 308.1 271.3 307.8 272.0 307.5C272.8 307.1 273.7 306.5 274.4 305.9C275.1 305.4 275.8 304.8 276.3 304.3C276.9 303.8 277.4 303.3 277.8 303.1C278.2 302.9 278.4 302.7 278.8 302.9C279.1 303.0 279.6 303.2 280.1 303.9C280.5 304.6 280.9 306.1 281.2 306.9C281.5 307.7 281.9 308.3 282.0 308.6"/></defs><g clip-path="url(#c9_5)" fill="none" stroke-linejoin="round" stroke-linecap="round"><use href="#l9_5" stroke="#bccbdb" stroke-width="4.2" transform="translate(0,-0.7)"/><use href="#l9_5" stroke="#000" stroke-width="2.4"/></g><use href="#tr" x="268.25" y="289.50"/>
<clipPath id="c9_6"><rect x="309.20" y="289.50" width="28.30" height="18.50"/></clipPath><use href="#fr" x="309.20" y="289.50"/><defs><path id="l9_6" d="M311.1 308.2C311.3 308.1 311.9 307.8 312.5 307.5C313.0 307.1 313.8 306.5 314.4 305.9C315.0 305.4 315.5 304.8 316.0 304.3C316.5 303.8 316.9 303.3 317.2 303.1C317.5 302.9 317.6 302.7 318.0 302.9C318.3 303.0 318.9 303.2 319.3 303.9C319.7 304.6 320.1 306.1 320.4 306.9C320.7 307.7 321.1 308.3 321.2 308.6"/></defs><g clip-path="url(#c9_6)" fill="none" stroke-linejoin="round" stroke-linecap="round"><use href="#l9_6" stroke="#bccbdb" stroke-width="4.2" transform="translate(0,-0.7)"/><use href="#l9_6" stroke="#000" stroke-width="2.4"/></g><use href="#tr" x="309.20" y="289.50"/>
<clipPath id="c9_7"><rect x="350.15" y="289.50" width="28.30" height="18.50"/></clipPath><use href="#fr" x="350.15" y="289.50"/><defs><path id="l9_7" d="M352.0 308.2C352.3 308.1 352.9 307.8 353.5 307.5C354.1 307.1 354.9 306.5 355.5 305.9C356.2 305.4 356.7 304.8 357.2 304.3C357.6 303.8 358.1 303.3 358.4 303.1C358.7 302.9 358.9 302.7 359.2 302.9C359.6 303.0 360.1 303.2 360.6 303.9C361.0 304.6 361.4 306.1 361.7 306.9C362.1 307.7 362.4 308.3 362.6 308.6"/></defs><polygon points="360.8,308.6 361.4,304.7 361.9,303.6 362.5,303.0 363.1,302.9 363.6,303.0 364.2,303.6 364.7,304.7 365.3,308.6" fill="#94bde0"/><g clip-path="url(#c9_7)" fill="none" stroke-linejoin="round" stroke-linecap="round"><use href="#l9_7" stroke="#bccbdb" stroke-width="4.2" transform="translate(0,-0.7)"/><use href="#l9_7" stroke="#000" stroke-width="2.4"/></g><use href="#tr" x="350.15" y="289.50"/>
<clipPath id="c9_8"><rect x="391.10" y="289.50" width="28.30" height="18.50"/></clipPath><use href="#fr" x="391.10" y="289.50"/><defs><path id="l9_8" d="M393.0 308.2C393.2 308.1 394.0 307.8 394.6 307.5C395.2 307.1 396.1 306.5 396.8 305.9C397.4 305.4 398.0 304.8 398.5 304.3C399.0 303.8 399.4 303.3 399.8 303.1C400.1 302.9 400.3 302.7 400.6 302.9C401.0 303.0 401.5 303.2 401.9 303.9C402.3 304.6 402.6 306.1 402.9 306.9C403.3 307.7 403.6 308.3 403.7 308.6"/></defs><polygon points="402.8,308.6 403.2,305.3 403.6,304.4 404.0,304.0 404.5,303.8 404.9,304.0 405.3,304.4 405.8,305.3 406.2,308.6" fill="#94bde0"/><g clip-path="url(#c9_8)" fill="none" stroke-linejoin="round" stroke-linecap="round"><use href="#l9_8" stroke="#bccbdb" stroke-width="4.2" transform="translate(0,-0.7)"/><use href="#l9_8" stroke="#000" stroke-width="2.4"/></g><use href="#tr" x="391.10" y="289.50"/>
<clipPath id="c9_9"><rect x="432.05" y="289.50" width="28.30" height="18.50"/></clipPath><use href="#fr" x="432.05" y="289.50"/><defs><path id="l9_9" d="M433.9 308.2C434.3 308.1 435.3 307.8 436.1 307.5C436.9 307.1 438.0 306.5 438.8 305.9C439.5 305.4 440.3 304.8 440.9 304.3C441.5 303.8 442.0 303.3 442.5 303.1C442.9 302.9 443.2 302.7 443.5 302.9C443.9 303.0 444.2 303.2 444.5 303.9C444.8 304.6 445.1 306.1 445.4 306.9C445.6 307.7 445.9 308.3 446.0 308.6"/></defs><g clip-path="url(#c9_9)" fill="none" stroke-linejoin="round" stroke-linecap="round"><use href="#l9_9" stroke="#bccbdb" stroke-width="4.2" transform="translate(0,-0.7)"/><use href="#l9_9" stroke="#000" stroke-width="2.4"/></g><use href="#tr" x="432.05" y="289.50"/>
<clipPath id="c9_10"><rect x="473.00" y="289.50" width="28.30" height="18.50"/></clipPath><use href="#fr" x="473.00" y="289.50"/><defs><path id="l9_10" d="M474.9 308.2C475.1 308.1 475.8 307.8 476.3 307.5C476.9 307.1 477.8 306.5 478.4 305.9C479.0 305.4 479.5 304.7 480.0 304.2C480.5 303.7 480.9 303.2 481.2 302.9C481.6 302.7 481.7 302.5 482.1 302.7C482.4 302.8 483.0 303.1 483.4 303.7C483.8 304.4 484.2 306.0 484.6 306.8C484.9 307.6 485.3 308.3 485.4 308.6"/></defs><g clip-path="url(#c9_10)" fill="none" stroke-linejoin="round" stroke-linecap="round"><use href="#l9_10" stroke="#bccbdb" stroke-width="4.2" transform="translate(0,-0.7)"/><use href="#l9_10" stroke="#000" stroke-width="2.4"/></g><use href="#tr" x="473.00" y="289.50"/>
</svg></body></html>
